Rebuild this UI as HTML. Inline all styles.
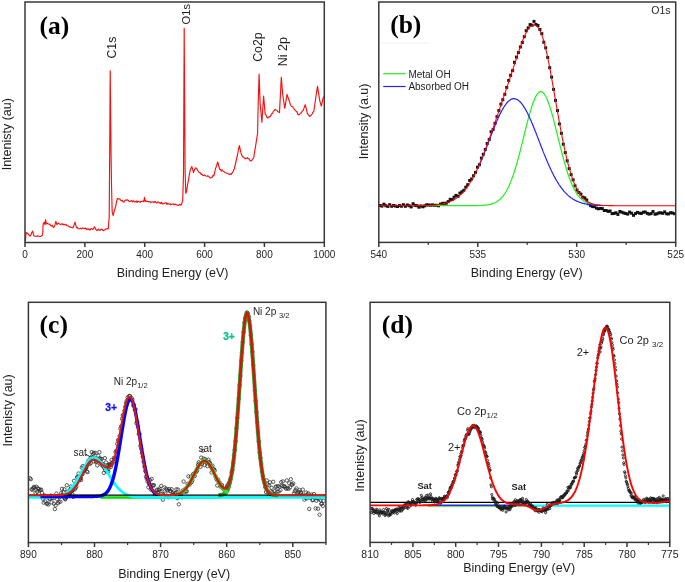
<!DOCTYPE html>
<html><head><meta charset="utf-8"><style>html,body{margin:0;padding:0;background:#fff;}svg{display:block;will-change:transform;}</style></head>
<body>
<svg width="685" height="582" viewBox="0 0 685 582">
<rect width="685" height="582" fill="#fff"/>
<polyline points="25.4,241 26.1,232.5 27.4,233.3 28.3,234.1 29.1,235.2 30,236 30.9,235.1 31.7,232.7 32.6,231.1 34,236 35,236.2 36,236.3 36.9,236.4 37.7,235.7 38.6,236.2 39.5,236.3 40.3,236.5 41.2,236 42.6,235 43.2,223.9 44.3,222.2 45,224.7 45.6,219.6 46.3,223.9 47.2,223.3 48,223.8 48.9,224.2 49.8,224 50.6,225.7 51.5,225.9 52.4,225.3 53.2,227.4 54.1,227 55,224.9 55.8,221.3 57,224.7 58.4,223 59.2,223.9 60.1,224.2 60.9,224.6 61.6,223.9 62.4,223.8 63.2,224.9 63.9,224.2 64.7,224.6 65.5,224.9 66.2,224.6 67,225.6 67.8,225.8 68.5,226 69.2,227 70,226.7 70.8,227.2 71.5,227.2 72.2,227.7 73,227.7 74,224.9 75,222.2 76.4,227.7 77.3,227.4 78.1,228.7 79,228.8 79.8,228.7 80.7,228.2 81.5,228.7 82.4,228.1 83.2,228.1 84.1,228.7 84.9,228.4 85.7,228.1 86.4,229.3 87.2,228.8 88,229.6 88.8,228.9 89.6,229.9 90.4,229.8 91.1,228.4 91.9,228.8 92.7,229.4 93.6,228.8 94.4,226.8 95.3,228.3 96.2,229.9 97,230.7 97.8,229.7 98.5,229.2 99.3,230.1 100.1,230.4 100.9,229.5 101.7,229.2 102.5,229.6 103.2,230.7 104,230.3 104.8,229.9 105.7,229 106.5,229 107.3,228.5 108.2,229 109.2,217 109.7,150 110.2,70.7 110.7,120 111,150 111.5,184.7 112.2,212.2 113.2,215.6 114.1,211.4 115,208.7 115.8,205.8 116.6,201.3 117.4,198.4 118.2,198.9 119,199 119.7,198.9 120.5,199.8 121.3,200.8 122.2,200.4 123.1,201.8 123.9,202.2 124.8,200.5 125.6,200.1 126.5,200.1 127.3,199.9 128.2,200.2 129.1,201.5 129.9,201.4 130.8,201 131.6,200.7 132.4,201.8 133.1,200.8 133.9,201.1 134.7,202 135.5,201.7 136.3,200.9 137.1,202.5 137.8,201.2 138.6,201.4 139.4,201.9 140.3,202.3 141.2,201.5 142,201.4 142.9,201 143.8,201.7 144.5,197.4 145.2,201.5 146,200.8 146.8,201.7 147.6,201.2 148.4,201.8 149.1,201.5 149.9,201.7 150.7,202.6 151.5,201.8 152.3,202 153.1,201.9 153.9,202.6 154.6,201.5 155.4,201.6 156.2,202.9 156.9,202.9 157.7,202 158.5,202 159.2,203 160,202.7 160.8,203.6 161.6,202.4 162.3,203.8 163.1,203.8 163.9,203.4 164.7,203.2 165.5,202.8 166.3,202.8 167,204.5 167.8,203.3 168.6,203.9 169.4,204.3 170.2,203.7 170.9,204.8 171.7,204.5 172.5,204 173.3,203.9 174.1,205 174.9,204 175.6,204.3 176.4,205 177.2,205 178.1,205.5 178.9,205 179.8,204.3 180.6,205.2 181.5,204.4 182.7,200.1 183.5,174.4 184.2,28.2 184.9,140 185.1,171 185.8,193.3 186.6,191.5 187.4,185.8 188.3,181.2 189.2,175.3 190,171 190.9,168.4 191.8,166.6 192.7,169.5 193.5,172.6 194.6,169.5 195.7,167.8 196.7,168.6 197.6,170.2 198.6,171.8 199.5,172.8 200.3,172.9 201.2,174.4 202,174.3 202.8,175.3 203.5,175.6 204.3,174.9 205.1,175.6 205.8,176 206.6,176.2 207.4,175.9 208.2,176.1 208.9,176.5 209.7,177.7 210.6,178 211.4,177.2 212.3,177.2 213.1,175.2 214,175.6 215.5,168.5 216.3,166.6 217,164.1 217.8,162 218.8,166.1 219.8,169.5 220.6,169.6 221.3,171.1 222.1,169.9 222.8,171 223.6,171.3 224.5,172.1 225.3,172.8 226.2,173 227,173.3 227.9,173.4 228.7,174.1 229.5,174.6 230.3,173.8 231.1,174.3 231.9,173.2 232.8,172.1 233.6,170.6 234.4,168.5 237.6,154.5 238.4,149.9 239.3,145.5 240.2,149.4 241,152.9 241.9,155.6 242.7,156.5 243.5,157.4 244.3,157.8 245.1,158.8 246.2,158.4 247.3,157.7 248.1,158.7 248.9,158.6 249.7,160.3 250.5,160.9 251.3,160.9 252.1,159.9 252.9,158.9 253.7,157.7 256.3,141.6 257.6,133 258.2,103 259.1,74.1 260.1,103 261.9,122.3 263.6,96.1 265.1,113.7 266,114.9 266.8,117 267.7,118 268.5,117.5 269.3,116.6 270.1,116.6 270.9,115.4 271.8,113.5 272.6,113.4 273.5,111 274.3,110.8 275.2,109.4 276.1,110 276.9,110.2 277.8,111.7 278.6,112 279.5,112.6 281.3,77.2 282.7,94.4 284.8,108.3 287,94.4 288.5,98.7 289.4,101.4 290.4,104.4 291.3,106.2 292.1,106.6 292.9,107 293.7,108.3 294.5,109.4 295.4,110.8 296.2,111.1 297.1,112.1 297.9,114.4 298.8,114.8 299.7,114.2 300.5,113 301.4,112.9 302.2,111.1 303.1,110.5 304.1,107.9 305.2,104.7 306.3,108.7 307.4,113.7 308.4,114.9 309.5,116.3 310.4,115.9 311.2,115.1 312.1,114.1 312.9,112.3 313.8,111.5 317.5,86.2 319.8,100.8 321.3,106.2 322.4,101.5 323.5,96.5" fill="none" stroke="#f81010" stroke-width="1.15" stroke-linejoin="round"/>
<rect x="25" y="2" width="299.3" height="240.5" fill="none" stroke="#383838" stroke-width="1.5"/>
<line x1="25" y1="242.5" x2="25" y2="247" stroke="#383838" stroke-width="1.5"/>
<text x="25" y="257.8" font-family="Liberation Sans, sans-serif" font-size="10" text-anchor="middle" fill="#1e1e1e">0</text>
<line x1="84.9" y1="242.5" x2="84.9" y2="247" stroke="#383838" stroke-width="1.5"/>
<text x="84.9" y="257.8" font-family="Liberation Sans, sans-serif" font-size="10" text-anchor="middle" fill="#1e1e1e">200</text>
<line x1="144.7" y1="242.5" x2="144.7" y2="247" stroke="#383838" stroke-width="1.5"/>
<text x="144.7" y="257.8" font-family="Liberation Sans, sans-serif" font-size="10" text-anchor="middle" fill="#1e1e1e">400</text>
<line x1="204.6" y1="242.5" x2="204.6" y2="247" stroke="#383838" stroke-width="1.5"/>
<text x="204.6" y="257.8" font-family="Liberation Sans, sans-serif" font-size="10" text-anchor="middle" fill="#1e1e1e">600</text>
<line x1="264.4" y1="242.5" x2="264.4" y2="247" stroke="#383838" stroke-width="1.5"/>
<text x="264.4" y="257.8" font-family="Liberation Sans, sans-serif" font-size="10" text-anchor="middle" fill="#1e1e1e">800</text>
<line x1="324.3" y1="242.5" x2="324.3" y2="247" stroke="#383838" stroke-width="1.5"/>
<text x="324.3" y="257.8" font-family="Liberation Sans, sans-serif" font-size="10" text-anchor="middle" fill="#1e1e1e">1000</text>
<text x="172.6" y="277.4" font-family="Liberation Sans, sans-serif" font-size="12.5" text-anchor="middle" fill="#1e1e1e">Binding Energy (eV)</text>
<text transform="translate(11.2,134.2) rotate(-90)" font-family="Liberation Sans, sans-serif" font-size="12.5" text-anchor="middle" fill="#1e1e1e">Intenisty (au)</text>
<text x="39.6" y="33.7" font-family="Liberation Serif, serif" font-weight="bold" font-size="25.5" fill="#000">(a)</text>
<text transform="translate(116,36.7) rotate(-90)" font-family="Liberation Sans, sans-serif" font-size="12.3" text-anchor="end" fill="#1e1e1e">C1s</text>
<text transform="translate(189.8,4) rotate(-90)" font-family="Liberation Sans, sans-serif" font-size="11.2" text-anchor="end" fill="#1e1e1e">O1s</text>
<text transform="translate(262,32.4) rotate(-90)" font-family="Liberation Sans, sans-serif" font-size="12.3" text-anchor="end" fill="#1e1e1e">Co2p</text>
<text transform="translate(287,37) rotate(-90)" font-family="Liberation Sans, sans-serif" font-size="12.5" text-anchor="end" fill="#1e1e1e">Ni 2p</text>
<g fill="#111">
<rect x="378.5" y="204" width="3" height="3"/>
<rect x="380.4" y="204.6" width="3" height="3"/>
<rect x="382.4" y="202.7" width="3" height="3"/>
<rect x="384.3" y="204.2" width="3" height="3"/>
<rect x="386.3" y="204.9" width="3" height="3"/>
<rect x="388.2" y="203.2" width="3" height="3"/>
<rect x="390.2" y="204.8" width="3" height="3"/>
<rect x="392.1" y="204" width="3" height="3"/>
<rect x="394.1" y="204.6" width="3" height="3"/>
<rect x="396" y="205" width="3" height="3"/>
<rect x="398" y="204.1" width="3" height="3"/>
<rect x="399.9" y="204.7" width="3" height="3"/>
<rect x="401.9" y="203.2" width="3" height="3"/>
<rect x="403.8" y="204.8" width="3" height="3"/>
<rect x="405.8" y="203.5" width="3" height="3"/>
<rect x="407.7" y="204.2" width="3" height="3"/>
<rect x="409.7" y="205.4" width="3" height="3"/>
<rect x="411.6" y="202.2" width="3" height="3"/>
<rect x="413.6" y="203.9" width="3" height="3"/>
<rect x="415.5" y="204.2" width="3" height="3"/>
<rect x="417.5" y="205.7" width="3" height="3"/>
<rect x="419.4" y="204.4" width="3" height="3"/>
<rect x="421.4" y="205.3" width="3" height="3"/>
<rect x="423.3" y="204.3" width="3" height="3"/>
<rect x="425.3" y="203.3" width="3" height="3"/>
<rect x="427.2" y="203.5" width="3" height="3"/>
<rect x="429.2" y="203.8" width="3" height="3"/>
<rect x="431.1" y="203.4" width="3" height="3"/>
<rect x="433.1" y="203.9" width="3" height="3"/>
<rect x="435" y="203.8" width="3" height="3"/>
<rect x="437" y="204.3" width="3" height="3"/>
<rect x="438.9" y="202.6" width="3" height="3"/>
<rect x="440.9" y="201.9" width="3" height="3"/>
<rect x="442.8" y="201.8" width="3" height="3"/>
<rect x="444.8" y="201.7" width="3" height="3"/>
<rect x="446.7" y="200.1" width="3" height="3"/>
<rect x="448.7" y="197.8" width="3" height="3"/>
<rect x="450.6" y="198.1" width="3" height="3"/>
<rect x="452.6" y="195.7" width="3" height="3"/>
<rect x="454.5" y="193.9" width="3" height="3"/>
<rect x="456.5" y="194.8" width="3" height="3"/>
<rect x="458.4" y="191.6" width="3" height="3"/>
<rect x="460.4" y="190.3" width="3" height="3"/>
<rect x="462.3" y="188.8" width="3" height="3"/>
<rect x="464.3" y="185.7" width="3" height="3"/>
<rect x="466.2" y="183.2" width="3" height="3"/>
<rect x="468.2" y="179" width="3" height="3"/>
<rect x="470.1" y="177.5" width="3" height="3"/>
<rect x="472.1" y="174.2" width="3" height="3"/>
<rect x="474" y="170.9" width="3" height="3"/>
<rect x="476" y="165.7" width="3" height="3"/>
<rect x="477.9" y="163.2" width="3" height="3"/>
<rect x="479.9" y="156.6" width="3" height="3"/>
<rect x="481.8" y="152.8" width="3" height="3"/>
<rect x="483.8" y="148" width="3" height="3"/>
<rect x="485.7" y="142" width="3" height="3"/>
<rect x="487.7" y="137.9" width="3" height="3"/>
<rect x="489.6" y="130.3" width="3" height="3"/>
<rect x="491.6" y="128" width="3" height="3"/>
<rect x="493.5" y="121.8" width="3" height="3"/>
<rect x="495.5" y="115.1" width="3" height="3"/>
<rect x="497.4" y="109" width="3" height="3"/>
<rect x="499.4" y="102.6" width="3" height="3"/>
<rect x="501.3" y="98.2" width="3" height="3"/>
<rect x="503.3" y="92.8" width="3" height="3"/>
<rect x="505.2" y="85.9" width="3" height="3"/>
<rect x="507.2" y="78.9" width="3" height="3"/>
<rect x="509.1" y="73.8" width="3" height="3"/>
<rect x="511.1" y="69.1" width="3" height="3"/>
<rect x="513" y="60.8" width="3" height="3"/>
<rect x="515" y="55.6" width="3" height="3"/>
<rect x="516.9" y="51.1" width="3" height="3"/>
<rect x="518.9" y="45.5" width="3" height="3"/>
<rect x="520.8" y="41" width="3" height="3"/>
<rect x="522.8" y="35.2" width="3" height="3"/>
<rect x="524.7" y="29.2" width="3" height="3"/>
<rect x="526.7" y="26.4" width="3" height="3"/>
<rect x="528.6" y="23.1" width="3" height="3"/>
<rect x="530.6" y="23.7" width="3" height="3"/>
<rect x="532.5" y="19.9" width="3" height="3"/>
<rect x="534.5" y="23" width="3" height="3"/>
<rect x="536.4" y="24" width="3" height="3"/>
<rect x="538.4" y="28" width="3" height="3"/>
<rect x="540.3" y="32.2" width="3" height="3"/>
<rect x="542.3" y="40.7" width="3" height="3"/>
<rect x="544.2" y="46.3" width="3" height="3"/>
<rect x="546.2" y="55.9" width="3" height="3"/>
<rect x="548.2" y="66.2" width="3" height="3"/>
<rect x="550.1" y="75.6" width="3" height="3"/>
<rect x="552.1" y="87.9" width="3" height="3"/>
<rect x="554" y="98.9" width="3" height="3"/>
<rect x="556" y="109.1" width="3" height="3"/>
<rect x="557.9" y="122.4" width="3" height="3"/>
<rect x="559.9" y="131.8" width="3" height="3"/>
<rect x="561.8" y="142.7" width="3" height="3"/>
<rect x="563.8" y="151.1" width="3" height="3"/>
<rect x="565.7" y="159.3" width="3" height="3"/>
<rect x="567.7" y="167.1" width="3" height="3"/>
<rect x="569.6" y="173.1" width="3" height="3"/>
<rect x="571.6" y="178.3" width="3" height="3"/>
<rect x="573.5" y="184.3" width="3" height="3"/>
<rect x="575.5" y="188.6" width="3" height="3"/>
<rect x="577.4" y="191" width="3" height="3"/>
<rect x="579.4" y="192.6" width="3" height="3"/>
<rect x="581.3" y="195.7" width="3" height="3"/>
<rect x="583.3" y="196.4" width="3" height="3"/>
<rect x="585.2" y="198.5" width="3" height="3"/>
<rect x="587.2" y="202.3" width="3" height="3"/>
<rect x="589.1" y="204.1" width="3" height="3"/>
<rect x="591.1" y="205.1" width="3" height="3"/>
<rect x="593" y="205.2" width="3" height="3"/>
<rect x="595" y="206.6" width="3" height="3"/>
<rect x="596.9" y="207.3" width="3" height="3"/>
<rect x="598.9" y="206.9" width="3" height="3"/>
<rect x="600.8" y="207.1" width="3" height="3"/>
<rect x="602.8" y="209" width="3" height="3"/>
<rect x="604.7" y="209" width="3" height="3"/>
<rect x="606.7" y="209.9" width="3" height="3"/>
<rect x="608.6" y="209.5" width="3" height="3"/>
<rect x="610.6" y="212.1" width="3" height="3"/>
<rect x="612.5" y="211.9" width="3" height="3"/>
<rect x="614.5" y="211.3" width="3" height="3"/>
<rect x="616.4" y="212.9" width="3" height="3"/>
<rect x="618.4" y="210" width="3" height="3"/>
<rect x="620.3" y="210.7" width="3" height="3"/>
<rect x="622.3" y="211.5" width="3" height="3"/>
<rect x="624.2" y="212" width="3" height="3"/>
<rect x="626.2" y="212.6" width="3" height="3"/>
<rect x="628.1" y="210.6" width="3" height="3"/>
<rect x="630.1" y="211.7" width="3" height="3"/>
<rect x="632" y="213.8" width="3" height="3"/>
<rect x="634" y="212.1" width="3" height="3"/>
<rect x="635.9" y="210.9" width="3" height="3"/>
<rect x="637.9" y="211.6" width="3" height="3"/>
<rect x="639.8" y="212" width="3" height="3"/>
<rect x="641.8" y="210.7" width="3" height="3"/>
<rect x="643.7" y="210.5" width="3" height="3"/>
<rect x="645.7" y="211.8" width="3" height="3"/>
<rect x="647.6" y="212.6" width="3" height="3"/>
<rect x="649.6" y="212.1" width="3" height="3"/>
<rect x="651.5" y="210" width="3" height="3"/>
<rect x="653.5" y="212.7" width="3" height="3"/>
<rect x="655.4" y="212.3" width="3" height="3"/>
<rect x="657.4" y="211.4" width="3" height="3"/>
<rect x="659.3" y="211.3" width="3" height="3"/>
<rect x="661.3" y="211.8" width="3" height="3"/>
<rect x="663.2" y="210.4" width="3" height="3"/>
<rect x="665.2" y="212.3" width="3" height="3"/>
<rect x="667.1" y="212.4" width="3" height="3"/>
<rect x="669.1" y="211.2" width="3" height="3"/>
<rect x="671" y="211.5" width="3" height="3"/>
<rect x="673" y="212.2" width="3" height="3"/>
</g>
<polyline points="428.8,205.7 429.3,205.7 429.8,205.7 430.3,205.7 430.8,205.7 431.3,205.7 431.8,205.7 432.3,205.7 432.8,205.7 433.3,205.7 433.8,205.7 434.3,205.7 434.8,205.7 435.3,205.7 435.8,205.7 436.3,205.7 436.8,205.7 437.3,205.7 437.8,205.7 438.3,205.7 438.8,205.7 439.3,205.7 439.8,205.7 440.3,205.7 440.8,205.7 441.3,205.7 441.8,205.7 442.3,205.7 442.8,205.7 443.3,205.7 443.8,205.7 444.3,205.7 444.8,205.7 445.3,205.7 445.8,205.7 446.3,205.7 446.8,205.7 447.3,205.7 447.8,205.7 448.3,205.7 448.8,205.7 449.3,205.7 449.8,205.7 450.3,205.7 450.8,205.7 451.3,205.7 451.8,205.7 452.3,205.7 452.8,205.7 453.3,205.7 453.8,205.7 454.3,205.7 454.8,205.7 455.3,205.7 455.8,205.7 456.3,205.7 456.8,205.7 457.3,205.7 457.8,205.7 458.3,205.7 458.8,205.7 459.3,205.7 459.8,205.7 460.3,205.7 460.8,205.7 461.3,205.7 461.8,205.7 462.3,205.7 462.8,205.7 463.3,205.7 463.8,205.7 464.3,205.7 464.8,205.7 465.3,205.7 465.8,205.7 466.3,205.7 466.8,205.7 467.3,205.7 467.8,205.7 468.3,205.7 468.8,205.7 469.3,205.7 469.8,205.7 470.3,205.7 470.8,205.7 471.3,205.7 471.8,205.7 472.3,205.7 472.8,205.7 473.3,205.7 473.8,205.7 474.3,205.6 474.8,205.6 475.3,205.6 475.8,205.6 476.3,205.6 476.8,205.6 477.3,205.6 477.8,205.6 478.3,205.6 478.8,205.6 479.3,205.5 479.8,205.5 480.3,205.5 480.8,205.5 481.3,205.5 481.8,205.4 482.3,205.4 482.8,205.4 483.3,205.3 483.8,205.3 484.3,205.2 484.8,205.2 485.3,205.1 485.8,205.1 486.3,205 486.8,205 487.3,204.9 487.8,204.8 488.3,204.7 488.8,204.6 489.3,204.5 489.8,204.4 490.3,204.3 490.8,204.2 491.3,204.1 491.8,203.9 492.3,203.8 492.8,203.6 493.3,203.4 493.8,203.2 494.3,203 494.8,202.8 495.3,202.5 495.8,202.3 496.3,202 496.8,201.7 497.3,201.4 497.8,201 498.3,200.7 498.8,200.3 499.3,199.9 499.8,199.5 500.3,199 500.8,198.5 501.3,198 501.8,197.5 502.3,196.9 502.8,196.3 503.3,195.7 503.8,195 504.3,194.3 504.8,193.6 505.3,192.8 505.8,192 506.3,191.2 506.8,190.3 507.3,189.3 507.8,188.4 508.3,187.4 508.8,186.3 509.3,185.2 509.8,184.1 510.3,182.9 510.8,181.7 511.3,180.4 511.8,179.1 512.3,177.7 512.8,176.3 513.3,174.9 513.8,173.4 514.3,171.9 514.8,170.3 515.3,168.7 515.8,167 516.3,165.3 516.8,163.6 517.3,161.9 517.8,160.1 518.3,158.2 518.8,156.4 519.3,154.5 519.8,152.5 520.3,150.6 520.8,148.6 521.3,146.7 521.8,144.7 522.3,142.6 522.8,140.6 523.3,138.6 523.8,136.6 524.3,134.5 524.8,132.5 525.3,130.5 525.8,128.5 526.3,126.5 526.8,124.5 527.3,122.5 527.8,120.6 528.3,118.7 528.8,116.8 529.3,115 529.8,113.2 530.3,111.5 530.8,109.8 531.3,108.2 531.8,106.6 532.3,105.1 532.8,103.6 533.3,102.3 533.8,101 534.3,99.7 534.8,98.6 535.3,97.5 535.8,96.5 536.3,95.6 536.8,94.8 537.3,94.1 537.8,93.5 538.3,92.9 538.8,92.5 539.3,92.1 539.8,91.9 540.3,91.7 540.8,91.7 541.3,91.7 541.8,91.9 542.3,92.1 542.8,92.5 543.3,92.9 543.8,93.5 544.3,94.1 544.8,94.8 545.3,95.6 545.8,96.5 546.3,97.5 546.8,98.6 547.3,99.7 547.8,101 548.3,102.3 548.8,103.6 549.3,105.1 549.8,106.6 550.3,108.2 550.8,109.8 551.3,111.5 551.8,113.2 552.3,115 552.8,116.8 553.3,118.7 553.8,120.6 554.3,122.5 554.8,124.5 555.3,126.5 555.8,128.5 556.3,130.5 556.8,132.5 557.3,134.5 557.8,136.6 558.3,138.6 558.8,140.6 559.3,142.6 559.8,144.7 560.3,146.7 560.8,148.6 561.3,150.6 561.8,152.5 562.3,154.5 562.8,156.4 563.3,158.2 563.8,160.1 564.3,161.9 564.8,163.6 565.3,165.3 565.8,167 566.3,168.7 566.8,170.3 567.3,171.9 567.8,173.4 568.3,174.9 568.8,176.3 569.3,177.7 569.8,179.1 570.3,180.4 570.8,181.7 571.3,182.9 571.8,184.1 572.3,185.2 572.8,186.3 573.3,187.4 573.8,188.4 574.3,189.3 574.8,190.3 575.3,191.2 575.8,192 576.3,192.8 576.8,193.6 577.3,194.3 577.8,195 578.3,195.7 578.8,196.3 579.3,196.9 579.8,197.5 580.3,198 580.8,198.5 581.3,199 581.8,199.5 582.3,199.9 582.8,200.3 583.3,200.7 583.8,201 584.3,201.4 584.8,201.7 585.3,202 585.8,202.3 586.3,202.5 586.8,202.8 587.3,203 587.8,203.2 588.3,203.4 588.8,203.6 589.3,203.8 589.8,203.9 590.3,204.1 590.8,204.2 591.3,204.3 591.8,204.4 592.3,204.5 592.8,204.6 593.3,204.7 593.8,204.8 594.3,204.9 594.8,205 595.3,205 595.8,205.1 596.3,205.1 596.8,205.2 597.3,205.2 597.8,205.3 598.3,205.3 598.8,205.4 599.3,205.4 599.8,205.4 600.3,205.5 600.8,205.5 601.3,205.5 601.8,205.5 602.3,205.5 602.8,205.6 603.3,205.6 603.8,205.6" fill="none" stroke="#22ee22" stroke-width="1.2"/>
<polyline points="478.3,167.1 478.8,166 479.3,164.9 479.8,163.7 480.3,162.6 480.8,161.4 481.3,160.2 481.8,159 482.3,157.8 482.8,156.6 483.3,155.4 483.8,154.1 484.3,152.9 484.8,151.6 485.3,150.3 485.8,149.1 486.3,147.8 486.8,146.5 487.3,145.2 487.8,143.9 488.3,142.6 488.8,141.3 489.3,140 489.8,138.7 490.3,137.4 490.8,136.1 491.3,134.8 491.8,133.6 492.3,132.3 492.8,131 493.3,129.8 493.8,128.5 494.3,127.3 494.8,126 495.3,124.8 495.8,123.6 496.3,122.4 496.8,121.3 497.3,120.1 497.8,119 498.3,117.8 498.8,116.8 499.3,115.7 499.8,114.6 500.3,113.6 500.8,112.6 501.3,111.7 501.8,110.7 502.3,109.8 502.8,108.9 503.3,108.1 503.8,107.2 504.3,106.5 504.8,105.7 505.3,105 505.8,104.3 506.3,103.7 506.8,103 507.3,102.5 507.8,101.9 508.3,101.4 508.8,101 509.3,100.6 509.8,100.2 510.3,99.9 510.8,99.6 511.3,99.3 511.8,99.1 512.3,98.9 512.8,98.8 513.3,98.7 513.8,98.7 514.3,98.7 514.8,98.8 515.3,98.8 515.8,99 516.3,99.2 516.8,99.4 517.3,99.6 517.8,99.9 518.3,100.3 518.8,100.7 519.3,101.1 519.8,101.5 520.3,102 520.8,102.6 521.3,103.2 521.8,103.8 522.3,104.4 522.8,105.1 523.3,105.9 523.8,106.6 524.3,107.4 524.8,108.2 525.3,109.1 525.8,110 526.3,110.9 526.8,111.8 527.3,112.8 527.8,113.8 528.3,114.8 528.8,115.9 529.3,117 529.8,118.1 530.3,119.2 530.8,120.3 531.3,121.5 531.8,122.7 532.3,123.8 532.8,125.1 533.3,126.3 533.8,127.5 534.3,128.7 534.8,130 535.3,131.3 535.8,132.5 536.3,133.8 536.8,135.1 537.3,136.4 537.8,137.7 538.3,139 538.8,140.3 539.3,141.6 539.8,142.9 540.3,144.2 540.8,145.5 541.3,146.8 541.8,148 542.3,149.3 542.8,150.6 543.3,151.9 543.8,153.1 544.3,154.4 544.8,155.6 545.3,156.8 545.8,158.1 546.3,159.3 546.8,160.5 547.3,161.6 547.8,162.8 548.3,164 548.8,165.1 549.3,166.2 549.8,167.3 550.3,168.4 550.8,169.5 551.3,170.5 551.8,171.6 552.3,172.6 552.8,173.6 553.3,174.6 553.8,175.6 554.3,176.5 554.8,177.4 555.3,178.4 555.8,179.3 556.3,180.1 556.8,181 557.3,181.8 557.8,182.6 558.3,183.4 558.8,184.2 559.3,185 559.8,185.7 560.3,186.4 560.8,187.1 561.3,187.8 561.8,188.5 562.3,189.1 562.8,189.8 563.3,190.4 563.8,191 564.3,191.6 564.8,192.1 565.3,192.7 565.8,193.2 566.3,193.7 566.8,194.2 567.3,194.7 567.8,195.1 568.3,195.6 568.8,196 569.3,196.4 569.8,196.8 570.3,197.2 570.8,197.6 571.3,198 571.8,198.3 572.3,198.6 572.8,199 573.3,199.3 573.8,199.6 574.3,199.9 574.8,200.1 575.3,200.4 575.8,200.7 576.3,200.9 576.8,201.1 577.3,201.4 577.8,201.6 578.3,201.8 578.8,202 579.3,202.2 579.8,202.3 580.3,202.5 580.8,202.7 581.3,202.8 581.8,203 582.3,203.1 582.8,203.3 583.3,203.4 583.8,203.5 584.3,203.6 584.8,203.8 585.3,203.9 585.8,204 586.3,204.1 586.8,204.2 587.3,204.2 587.8,204.3 588.3,204.4 588.8,204.5 589.3,204.6 589.8,204.6 590.3,204.7 590.8,204.7 591.3,204.8 591.8,204.9 592.3,204.9 592.8,205 593.3,205 593.8,205 594.3,205.1 594.8,205.1 595.3,205.2 595.8,205.2 596.3,205.2 596.8,205.3 597.3,205.3 597.8,205.3 598.3,205.3 598.8,205.4 599.3,205.4 599.8,205.4 600.3,205.4 600.8,205.4 601.3,205.5 601.8,205.5 602.3,205.5 602.8,205.5 603.3,205.5 603.8,205.5" fill="none" stroke="#2222ff" stroke-width="1.2"/>
<polyline points="378.8,205.7 379.3,205.7 379.8,205.7 380.3,205.7 380.8,205.7 381.3,205.7 381.8,205.7 382.3,205.7 382.8,205.7 383.3,205.7 383.8,205.7 384.3,205.7 384.8,205.7 385.3,205.7 385.8,205.7 386.3,205.7 386.8,205.7 387.3,205.7 387.8,205.7 388.3,205.7 388.8,205.7 389.3,205.7 389.8,205.7 390.3,205.7 390.8,205.7 391.3,205.7 391.8,205.7 392.3,205.7 392.8,205.7 393.3,205.7 393.8,205.7 394.3,205.7 394.8,205.7 395.3,205.7 395.8,205.7 396.3,205.7 396.8,205.7 397.3,205.7 397.8,205.7 398.3,205.7 398.8,205.7 399.3,205.7 399.8,205.7 400.3,205.7 400.8,205.7 401.3,205.7 401.8,205.7 402.3,205.7 402.8,205.7 403.3,205.7 403.8,205.7 404.3,205.7 404.8,205.7 405.3,205.7 405.8,205.7 406.3,205.7 406.8,205.7 407.3,205.7 407.8,205.7 408.3,205.7 408.8,205.7 409.3,205.7 409.8,205.7 410.3,205.7 410.8,205.7 411.3,205.7 411.8,205.7 412.3,205.7 412.8,205.7 413.3,205.7 413.8,205.7 414.3,205.7 414.8,205.7 415.3,205.7 415.8,205.7 416.3,205.6 416.8,205.6 417.3,205.6 417.8,205.6 418.3,205.6 418.8,205.6 419.3,205.6 419.8,205.6 420.3,205.6 420.8,205.6 421.3,205.6 421.8,205.6 422.3,205.6 422.8,205.6 423.3,205.6 423.8,205.5 424.3,205.5 424.8,205.5 425.3,205.5 425.8,205.5 426.3,205.5 426.8,205.5 427.3,205.4 427.8,205.4 428.3,205.4 428.8,205.4 429.3,205.4 429.8,205.3 430.3,205.3 430.8,205.3 431.3,205.3 431.8,205.2 432.3,205.2 432.8,205.2 433.3,205.1 433.8,205.1 434.3,205 434.8,205 435.3,204.9 435.8,204.9 436.3,204.8 436.8,204.8 437.3,204.7 437.8,204.7 438.3,204.6 438.8,204.5 439.3,204.5 439.8,204.4 440.3,204.3 440.8,204.2 441.3,204.1 441.8,204 442.3,203.9 442.8,203.8 443.3,203.7 443.8,203.6 444.3,203.5 444.8,203.4 445.3,203.2 445.8,203.1 446.3,203 446.8,202.8 447.3,202.7 447.8,202.5 448.3,202.3 448.8,202.1 449.3,201.9 449.8,201.7 450.3,201.5 450.8,201.3 451.3,201.1 451.8,200.9 452.3,200.6 452.8,200.4 453.3,200.1 453.8,199.8 454.3,199.5 454.8,199.2 455.3,198.9 455.8,198.6 456.3,198.2 456.8,197.9 457.3,197.5 457.8,197.1 458.3,196.8 458.8,196.4 459.3,195.9 459.8,195.5 460.3,195 460.8,194.6 461.3,194.1 461.8,193.6 462.3,193.1 462.8,192.6 463.3,192 463.8,191.4 464.3,190.9 464.8,190.3 465.3,189.6 465.8,189 466.3,188.4 466.8,187.7 467.3,187 467.8,186.3 468.3,185.6 468.8,184.8 469.3,184 469.8,183.3 470.3,182.5 470.8,181.6 471.3,180.8 471.8,179.9 472.3,179 472.8,178.1 473.3,177.2 473.8,176.3 474.3,175.3 474.8,174.3 475.3,173.3 475.8,172.3 476.3,171.3 476.8,170.2 477.3,169.2 477.8,168.1 478.3,167 478.8,165.8 479.3,164.7 479.8,163.5 480.3,162.4 480.8,161.2 481.3,160 481.8,158.7 482.3,157.5 482.8,156.3 483.3,155 483.8,153.7 484.3,152.4 484.8,151.1 485.3,149.8 485.8,148.5 486.3,147.1 486.8,145.8 487.3,144.4 487.8,143 488.3,141.6 488.8,140.3 489.3,138.9 489.8,137.5 490.3,136 490.8,134.6 491.3,133.2 491.8,131.8 492.3,130.3 492.8,128.9 493.3,127.5 493.8,126 494.3,124.6 494.8,123.1 495.3,121.6 495.8,120.2 496.3,118.7 496.8,117.2 497.3,115.8 497.8,114.3 498.3,112.8 498.8,111.4 499.3,109.9 499.8,108.4 500.3,106.9 500.8,105.5 501.3,104 501.8,102.5 502.3,101 502.8,99.5 503.3,98.1 503.8,96.6 504.3,95.1 504.8,93.6 505.3,92.1 505.8,90.6 506.3,89.1 506.8,87.6 507.3,86.1 507.8,84.6 508.3,83.1 508.8,81.6 509.3,80.1 509.8,78.6 510.3,77.1 510.8,75.5 511.3,74 511.8,72.5 512.3,71 512.8,69.5 513.3,67.9 513.8,66.4 514.3,64.9 514.8,63.4 515.3,61.8 515.8,60.3 516.3,58.8 516.8,57.3 517.3,55.8 517.8,54.3 518.3,52.8 518.8,51.3 519.3,49.9 519.8,48.4 520.3,47 520.8,45.6 521.3,44.2 521.8,42.8 522.3,41.5 522.8,40.2 523.3,38.9 523.8,37.7 524.3,36.5 524.8,35.4 525.3,34.3 525.8,33.3 526.3,32.3 526.8,31.4 527.3,30.5 527.8,29.7 528.3,28.9 528.8,28.3 529.3,27.6 529.8,27.1 530.3,26.6 530.8,26.2 531.3,25.8 531.8,25.5 532.3,25.3 532.8,25.1 533.3,25 533.8,25 534.3,25 534.8,25.1 535.3,25.2 535.8,25.5 536.3,25.8 536.8,26.1 537.3,26.6 537.8,27.1 538.3,27.8 538.8,28.5 539.3,29.3 539.8,30.2 540.3,31.3 540.8,32.4 541.3,33.6 541.8,34.9 542.3,36.4 542.8,37.9 543.3,39.5 543.8,41.2 544.3,43 544.8,45 545.3,46.9 545.8,49 546.3,51.2 546.8,53.4 547.3,55.7 547.8,58.1 548.3,60.6 548.8,63.1 549.3,65.6 549.8,68.2 550.3,70.9 550.8,73.6 551.3,76.3 551.8,79.1 552.3,81.9 552.8,84.8 553.3,87.6 553.8,90.5 554.3,93.3 554.8,96.2 555.3,99.1 555.8,102 556.3,104.9 556.8,107.8 557.3,110.6 557.8,113.5 558.3,116.3 558.8,119.1 559.3,121.9 559.8,124.7 560.3,127.4 560.8,130.1 561.3,132.7 561.8,135.3 562.3,137.9 562.8,140.4 563.3,142.9 563.8,145.3 564.3,147.7 564.8,150 565.3,152.3 565.8,154.5 566.3,156.7 566.8,158.8 567.3,160.8 567.8,162.8 568.3,164.8 568.8,166.7 569.3,168.5 569.8,170.2 570.3,171.9 570.8,173.6 571.3,175.2 571.8,176.7 572.3,178.2 572.8,179.6 573.3,180.9 573.8,182.3 574.3,183.5 574.8,184.7 575.3,185.9 575.8,187 576.3,188 576.8,189 577.3,190 577.8,190.9 578.3,191.8 578.8,192.6 579.3,193.4 579.8,194.1 580.3,194.9 580.8,195.5 581.3,196.2 581.8,196.8 582.3,197.3 582.8,197.9 583.3,198.4 583.8,198.9 584.3,199.3 584.8,199.8 585.3,200.2 585.8,200.5 586.3,200.9 586.8,201.2 587.3,201.5 587.8,201.8 588.3,202.1 588.8,202.4 589.3,202.6 589.8,202.8 590.3,203 590.8,203.2 591.3,203.4 591.8,203.6 592.3,203.7 592.8,203.9 593.3,204 593.8,204.2 594.3,204.3 594.8,204.4 595.3,204.5 595.8,204.6 596.3,204.7 596.8,204.8 597.3,204.8 597.8,204.9 598.3,205 598.8,205 599.3,205.1 599.8,205.1 600.3,205.2 600.8,205.2 601.3,205.3 601.8,205.3 602.3,205.3 602.8,205.4 603.3,205.4 603.8,205.4 604.3,205.4 604.8,205.5 605.3,205.5 605.8,205.5 606.3,205.5 606.8,205.5 607.3,205.5 607.8,205.6 608.3,205.6 608.8,205.6 609.3,205.6 609.8,205.6 610.3,205.6 610.8,205.6 611.3,205.6 611.8,205.6 612.3,205.6 612.8,205.6 613.3,205.6 613.8,205.7 614.3,205.7 614.8,205.7 615.3,205.7 615.8,205.7 616.3,205.7 616.8,205.7 617.3,205.7 617.8,205.7 618.3,205.7 618.8,205.7 619.3,205.7 619.8,205.7 620.3,205.7 620.8,205.7 621.3,205.7 621.8,205.7 622.3,205.7 622.8,205.7 623.3,205.7 623.8,205.7 624.3,205.7 624.8,205.7 625.3,205.7 625.8,205.7 626.3,205.7 626.8,205.7 627.3,205.7 627.8,205.7 628.3,205.7 628.8,205.7 629.3,205.7 629.8,205.7 630.3,205.7 630.8,205.7 631.3,205.7 631.8,205.7 632.3,205.7 632.8,205.7 633.3,205.7 633.8,205.7 634.3,205.7 634.8,205.7 635.3,205.7 635.8,205.7 636.3,205.7 636.8,205.7 637.3,205.7 637.8,205.7 638.3,205.7 638.8,205.7 639.3,205.7 639.8,205.7 640.3,205.7 640.8,205.7 641.3,205.7 641.8,205.7 642.3,205.7 642.8,205.7 643.3,205.7 643.8,205.7 644.3,205.7 644.8,205.7 645.3,205.7 645.8,205.7 646.3,205.7 646.8,205.7 647.3,205.7 647.8,205.7 648.3,205.7 648.8,205.7 649.3,205.7 649.8,205.7 650.3,205.7 650.8,205.7 651.3,205.7 651.8,205.7 652.3,205.7 652.8,205.7 653.3,205.7 653.8,205.7 654.3,205.7 654.8,205.7 655.3,205.7 655.8,205.7 656.3,205.7 656.8,205.7 657.3,205.7 657.8,205.7 658.3,205.7 658.8,205.7 659.3,205.7 659.8,205.7 660.3,205.7 660.8,205.7 661.3,205.7 661.8,205.7 662.3,205.7 662.8,205.7 663.3,205.7 663.8,205.7 664.3,205.7 664.8,205.7 665.3,205.7 665.8,205.7 666.3,205.7 666.8,205.7 667.3,205.7 667.8,205.7 668.3,205.7 668.8,205.7 669.3,205.7 669.8,205.7 670.3,205.7 670.8,205.7 671.3,205.7 671.8,205.7 672.3,205.7 672.8,205.7 673.3,205.7 673.8,205.7 674.3,205.7 674.8,205.7 675.3,205.7" fill="none" stroke="#ff0000" stroke-width="1.05"/>
<rect x="378.8" y="2" width="296.9" height="240.4" fill="none" stroke="#383838" stroke-width="1.5"/>
<line x1="378.8" y1="242.4" x2="378.8" y2="246.9" stroke="#383838" stroke-width="1.5"/>
<text x="378.8" y="257.8" font-family="Liberation Sans, sans-serif" font-size="10" text-anchor="middle" fill="#1e1e1e">540</text>
<line x1="477.8" y1="242.4" x2="477.8" y2="246.9" stroke="#383838" stroke-width="1.5"/>
<text x="477.8" y="257.8" font-family="Liberation Sans, sans-serif" font-size="10" text-anchor="middle" fill="#1e1e1e">535</text>
<line x1="576.7" y1="242.4" x2="576.7" y2="246.9" stroke="#383838" stroke-width="1.5"/>
<text x="576.7" y="257.8" font-family="Liberation Sans, sans-serif" font-size="10" text-anchor="middle" fill="#1e1e1e">530</text>
<line x1="675.7" y1="242.4" x2="675.7" y2="246.9" stroke="#383838" stroke-width="1.5"/>
<text x="675.7" y="257.8" font-family="Liberation Sans, sans-serif" font-size="10" text-anchor="middle" fill="#1e1e1e">525</text>
<line x1="428.3" y1="242.4" x2="428.3" y2="244.9" stroke="#383838" stroke-width="1.2"/>
<line x1="527.2" y1="242.4" x2="527.2" y2="244.9" stroke="#383838" stroke-width="1.2"/>
<line x1="626.2" y1="242.4" x2="626.2" y2="244.9" stroke="#383838" stroke-width="1.2"/>
<text x="526.7" y="277.4" font-family="Liberation Sans, sans-serif" font-size="12.5" text-anchor="middle" fill="#1e1e1e">Binding Energy (eV)</text>
<text transform="translate(368,121.4) rotate(-90)" font-family="Liberation Sans, sans-serif" font-size="12.5" text-anchor="middle" fill="#1e1e1e">Intensity (a.u)</text>
<text x="390.2" y="33.2" font-family="Liberation Serif, serif" font-weight="bold" font-size="25.5" fill="#000">(b)</text>
<text x="670.5" y="14.2" font-family="Liberation Sans, sans-serif" font-size="10.5" text-anchor="end" fill="#1e1e1e">O1s</text>
<line x1="383.2" y1="73.7" x2="405.6" y2="73.7" stroke="#22ee22" stroke-width="1.2"/>
<text x="408.4" y="77.5" font-family="Liberation Sans, sans-serif" font-size="10" fill="#1e1e1e">Metal OH</text>
<line x1="383.2" y1="86.5" x2="405.6" y2="86.5" stroke="#2222ff" stroke-width="1.2"/>
<text x="408.4" y="90.4" font-family="Liberation Sans, sans-serif" font-size="10" fill="#1e1e1e">Absorbed OH</text>
<line x1="382" y1="43" x2="429.5" y2="43" stroke="#f0f0f0" stroke-width="1"/>
<g fill="none" stroke="#2a2a2a" stroke-width="0.75">
<circle cx="30" cy="478.3" r="1.7"/>
<circle cx="30.8" cy="479.2" r="1.7"/>
<circle cx="31.6" cy="489.2" r="1.7"/>
<circle cx="32.4" cy="489.9" r="1.7"/>
<circle cx="33.2" cy="488.2" r="1.7"/>
<circle cx="34" cy="486.8" r="1.7"/>
<circle cx="34.8" cy="487.6" r="1.7"/>
<circle cx="35.6" cy="492.8" r="1.7"/>
<circle cx="36.4" cy="486.8" r="1.7"/>
<circle cx="37.2" cy="491.8" r="1.7"/>
<circle cx="38" cy="488.4" r="1.7"/>
<circle cx="38.8" cy="489.1" r="1.7"/>
<circle cx="39.6" cy="490.7" r="1.7"/>
<circle cx="40.4" cy="489.8" r="1.7"/>
<circle cx="41.2" cy="489.7" r="1.7"/>
<circle cx="42" cy="492.8" r="1.7"/>
<circle cx="42.8" cy="498.6" r="1.7"/>
<circle cx="43.6" cy="502.7" r="1.7"/>
<circle cx="44.4" cy="495.4" r="1.7"/>
<circle cx="45.2" cy="501.5" r="1.7"/>
<circle cx="46" cy="496.8" r="1.7"/>
<circle cx="46.8" cy="503.9" r="1.7"/>
<circle cx="47.6" cy="503.3" r="1.7"/>
<circle cx="48.4" cy="504.5" r="1.7"/>
<circle cx="49.2" cy="498.7" r="1.7"/>
<circle cx="50" cy="498.8" r="1.7"/>
<circle cx="50.8" cy="495.7" r="1.7"/>
<circle cx="51.6" cy="502.4" r="1.7"/>
<circle cx="52.4" cy="497.8" r="1.7"/>
<circle cx="53.2" cy="498.3" r="1.7"/>
<circle cx="54" cy="503.7" r="1.7"/>
<circle cx="54.8" cy="509.1" r="1.7"/>
<circle cx="55.6" cy="505.4" r="1.7"/>
<circle cx="56.4" cy="493.6" r="1.7"/>
<circle cx="57.2" cy="499.4" r="1.7"/>
<circle cx="58" cy="503.2" r="1.7"/>
<circle cx="58.8" cy="501.7" r="1.7"/>
<circle cx="59.6" cy="497.1" r="1.7"/>
<circle cx="60.4" cy="501.8" r="1.7"/>
<circle cx="61.2" cy="492.9" r="1.7"/>
<circle cx="62" cy="494.9" r="1.7"/>
<circle cx="62.8" cy="495.1" r="1.7"/>
<circle cx="63.6" cy="492.2" r="1.7"/>
<circle cx="64.4" cy="489.3" r="1.7"/>
<circle cx="65.2" cy="498.8" r="1.7"/>
<circle cx="66" cy="496.6" r="1.7"/>
<circle cx="66.8" cy="485.3" r="1.7"/>
<circle cx="67.6" cy="495" r="1.7"/>
<circle cx="68.4" cy="494.1" r="1.7"/>
<circle cx="69.2" cy="493.7" r="1.7"/>
<circle cx="70" cy="489.9" r="1.7"/>
<circle cx="70.8" cy="488.9" r="1.7"/>
<circle cx="71.6" cy="491" r="1.7"/>
<circle cx="72.4" cy="494.4" r="1.7"/>
<circle cx="73.2" cy="496.9" r="1.7"/>
<circle cx="74" cy="480.8" r="1.7"/>
<circle cx="74.8" cy="489.4" r="1.7"/>
<circle cx="75.6" cy="487.9" r="1.7"/>
<circle cx="76.4" cy="483.7" r="1.7"/>
<circle cx="77.2" cy="477.2" r="1.7"/>
<circle cx="78" cy="479.8" r="1.7"/>
<circle cx="78.8" cy="476.9" r="1.7"/>
<circle cx="79.6" cy="479.8" r="1.7"/>
<circle cx="80.4" cy="477.3" r="1.7"/>
<circle cx="81.2" cy="480" r="1.7"/>
<circle cx="82" cy="474.4" r="1.7"/>
<circle cx="82.8" cy="466.1" r="1.7"/>
<circle cx="83.6" cy="469.4" r="1.7"/>
<circle cx="84.4" cy="469.9" r="1.7"/>
<circle cx="85.2" cy="468.9" r="1.7"/>
<circle cx="86" cy="467.5" r="1.7"/>
<circle cx="86.8" cy="471.5" r="1.7"/>
<circle cx="87.6" cy="472.1" r="1.7"/>
<circle cx="88.4" cy="460.7" r="1.7"/>
<circle cx="89.2" cy="461.5" r="1.7"/>
<circle cx="90" cy="460.2" r="1.7"/>
<circle cx="90.8" cy="463.2" r="1.7"/>
<circle cx="91.6" cy="456.8" r="1.7"/>
<circle cx="92.4" cy="458.2" r="1.7"/>
<circle cx="93.2" cy="454" r="1.7"/>
<circle cx="94" cy="452.8" r="1.7"/>
<circle cx="94.8" cy="459" r="1.7"/>
<circle cx="95.6" cy="453" r="1.7"/>
<circle cx="96.4" cy="460.9" r="1.7"/>
<circle cx="97.2" cy="465.4" r="1.7"/>
<circle cx="98" cy="459.9" r="1.7"/>
<circle cx="98.8" cy="461.4" r="1.7"/>
<circle cx="99.6" cy="458.3" r="1.7"/>
<circle cx="100.4" cy="460.7" r="1.7"/>
<circle cx="101.2" cy="464.6" r="1.7"/>
<circle cx="102" cy="463.7" r="1.7"/>
<circle cx="102.8" cy="465.8" r="1.7"/>
<circle cx="103.6" cy="466.8" r="1.7"/>
<circle cx="104.4" cy="468.1" r="1.7"/>
<circle cx="105.2" cy="470.3" r="1.7"/>
<circle cx="106" cy="467.6" r="1.7"/>
<circle cx="106.8" cy="468.4" r="1.7"/>
<circle cx="107.6" cy="465.3" r="1.7"/>
<circle cx="108.4" cy="469" r="1.7"/>
<circle cx="109.2" cy="465.5" r="1.7"/>
<circle cx="110" cy="464.8" r="1.7"/>
<circle cx="110.8" cy="466.9" r="1.7"/>
<circle cx="111.6" cy="460" r="1.7"/>
<circle cx="112.4" cy="462.9" r="1.7"/>
<circle cx="113.2" cy="461.6" r="1.7"/>
<circle cx="114" cy="457.8" r="1.7"/>
<circle cx="114.8" cy="458.7" r="1.7"/>
<circle cx="115.6" cy="452.1" r="1.7"/>
<circle cx="116.4" cy="450.8" r="1.7"/>
<circle cx="117.2" cy="443.8" r="1.7"/>
<circle cx="118" cy="440.1" r="1.7"/>
<circle cx="118.8" cy="440.8" r="1.7"/>
<circle cx="119.6" cy="436.4" r="1.7"/>
<circle cx="120.4" cy="428.6" r="1.7"/>
<circle cx="121.2" cy="426.2" r="1.7"/>
<circle cx="122" cy="418.8" r="1.7"/>
<circle cx="122.8" cy="415.2" r="1.7"/>
<circle cx="123.6" cy="414.7" r="1.7"/>
<circle cx="124.4" cy="410.8" r="1.7"/>
<circle cx="125.2" cy="406.7" r="1.7"/>
<circle cx="126" cy="402.8" r="1.7"/>
<circle cx="126.8" cy="400.6" r="1.7"/>
<circle cx="127.6" cy="397.3" r="1.7"/>
<circle cx="128.4" cy="399.2" r="1.7"/>
<circle cx="129.2" cy="395.9" r="1.7"/>
<circle cx="130" cy="396" r="1.7"/>
<circle cx="130.8" cy="399.7" r="1.7"/>
<circle cx="131.6" cy="398.1" r="1.7"/>
<circle cx="132.4" cy="399.7" r="1.7"/>
<circle cx="133.2" cy="405.6" r="1.7"/>
<circle cx="134" cy="405" r="1.7"/>
<circle cx="134.8" cy="409.6" r="1.7"/>
<circle cx="135.6" cy="409.3" r="1.7"/>
<circle cx="136.4" cy="423.4" r="1.7"/>
<circle cx="137.2" cy="422.2" r="1.7"/>
<circle cx="138" cy="426.7" r="1.7"/>
<circle cx="138.8" cy="434" r="1.7"/>
<circle cx="139.6" cy="434.2" r="1.7"/>
<circle cx="140.4" cy="445.9" r="1.7"/>
<circle cx="141.2" cy="448.9" r="1.7"/>
<circle cx="142" cy="453.3" r="1.7"/>
<circle cx="142.8" cy="456.7" r="1.7"/>
<circle cx="143.6" cy="461.7" r="1.7"/>
<circle cx="144.4" cy="466.5" r="1.7"/>
<circle cx="145.2" cy="471.1" r="1.7"/>
<circle cx="146" cy="476.7" r="1.7"/>
<circle cx="146.8" cy="478.9" r="1.7"/>
<circle cx="147.6" cy="481.6" r="1.7"/>
<circle cx="148.4" cy="487.3" r="1.7"/>
<circle cx="149.2" cy="484" r="1.7"/>
<circle cx="150" cy="480.1" r="1.7"/>
<circle cx="150.8" cy="489.6" r="1.7"/>
<circle cx="151.6" cy="478.9" r="1.7"/>
<circle cx="152.4" cy="485.1" r="1.7"/>
<circle cx="153.2" cy="485.8" r="1.7"/>
<circle cx="154" cy="485.1" r="1.7"/>
<circle cx="154.8" cy="495" r="1.7"/>
<circle cx="155.6" cy="492.9" r="1.7"/>
<circle cx="156.4" cy="490.7" r="1.7"/>
<circle cx="157.2" cy="489.6" r="1.7"/>
<circle cx="158" cy="492.8" r="1.7"/>
<circle cx="158.8" cy="489.9" r="1.7"/>
<circle cx="159.6" cy="488.7" r="1.7"/>
<circle cx="160.4" cy="491.4" r="1.7"/>
<circle cx="161.2" cy="485.9" r="1.7"/>
<circle cx="162" cy="491.3" r="1.7"/>
<circle cx="162.8" cy="499.8" r="1.7"/>
<circle cx="163.6" cy="494.7" r="1.7"/>
<circle cx="164.4" cy="487.4" r="1.7"/>
<circle cx="165.2" cy="493.7" r="1.7"/>
<circle cx="166" cy="488.6" r="1.7"/>
<circle cx="166.8" cy="489.6" r="1.7"/>
<circle cx="167.6" cy="490.5" r="1.7"/>
<circle cx="168.4" cy="497.2" r="1.7"/>
<circle cx="169.2" cy="489" r="1.7"/>
<circle cx="170" cy="490.8" r="1.7"/>
<circle cx="170.8" cy="491.5" r="1.7"/>
<circle cx="171.6" cy="489.2" r="1.7"/>
<circle cx="172.4" cy="495.2" r="1.7"/>
<circle cx="173.2" cy="492.8" r="1.7"/>
<circle cx="174" cy="494.8" r="1.7"/>
<circle cx="174.8" cy="493.4" r="1.7"/>
<circle cx="175.6" cy="493" r="1.7"/>
<circle cx="176.4" cy="489.3" r="1.7"/>
<circle cx="177.2" cy="498.2" r="1.7"/>
<circle cx="178" cy="489.5" r="1.7"/>
<circle cx="178.8" cy="504.3" r="1.7"/>
<circle cx="179.6" cy="497.1" r="1.7"/>
<circle cx="180.4" cy="495.1" r="1.7"/>
<circle cx="181.2" cy="493.4" r="1.7"/>
<circle cx="182" cy="497.3" r="1.7"/>
<circle cx="182.8" cy="490.5" r="1.7"/>
<circle cx="183.6" cy="481.5" r="1.7"/>
<circle cx="184.4" cy="491.8" r="1.7"/>
<circle cx="185.2" cy="488.9" r="1.7"/>
<circle cx="186" cy="491.5" r="1.7"/>
<circle cx="186.8" cy="491.3" r="1.7"/>
<circle cx="187.6" cy="483.9" r="1.7"/>
<circle cx="188.4" cy="476.4" r="1.7"/>
<circle cx="189.2" cy="484.9" r="1.7"/>
<circle cx="190" cy="483.6" r="1.7"/>
<circle cx="190.8" cy="476.7" r="1.7"/>
<circle cx="191.6" cy="482.1" r="1.7"/>
<circle cx="192.4" cy="480.2" r="1.7"/>
<circle cx="193.2" cy="473.9" r="1.7"/>
<circle cx="194" cy="474.8" r="1.7"/>
<circle cx="194.8" cy="476.1" r="1.7"/>
<circle cx="195.6" cy="472.2" r="1.7"/>
<circle cx="196.4" cy="471.7" r="1.7"/>
<circle cx="197.2" cy="470.2" r="1.7"/>
<circle cx="198" cy="464.9" r="1.7"/>
<circle cx="198.8" cy="462.3" r="1.7"/>
<circle cx="199.6" cy="463.7" r="1.7"/>
<circle cx="200.4" cy="466.9" r="1.7"/>
<circle cx="201.2" cy="457.6" r="1.7"/>
<circle cx="202" cy="463.9" r="1.7"/>
<circle cx="202.8" cy="450.7" r="1.7"/>
<circle cx="203.6" cy="458.6" r="1.7"/>
<circle cx="204.4" cy="465.2" r="1.7"/>
<circle cx="205.2" cy="459.2" r="1.7"/>
<circle cx="206" cy="461" r="1.7"/>
<circle cx="206.8" cy="462.9" r="1.7"/>
<circle cx="207.6" cy="466.2" r="1.7"/>
<circle cx="208.4" cy="459.7" r="1.7"/>
<circle cx="209.2" cy="462" r="1.7"/>
<circle cx="210" cy="463.2" r="1.7"/>
<circle cx="210.8" cy="465.9" r="1.7"/>
<circle cx="211.6" cy="472.5" r="1.7"/>
<circle cx="212.4" cy="465.7" r="1.7"/>
<circle cx="213.2" cy="469.4" r="1.7"/>
<circle cx="214" cy="469.2" r="1.7"/>
<circle cx="214.8" cy="470.5" r="1.7"/>
<circle cx="215.6" cy="476.6" r="1.7"/>
<circle cx="216.4" cy="479.5" r="1.7"/>
<circle cx="217.2" cy="485.5" r="1.7"/>
<circle cx="218" cy="479.5" r="1.7"/>
<circle cx="218.8" cy="482.4" r="1.7"/>
<circle cx="219.6" cy="482.5" r="1.7"/>
<circle cx="220.4" cy="486.5" r="1.7"/>
<circle cx="221.2" cy="486.2" r="1.7"/>
<circle cx="222" cy="485.1" r="1.7"/>
<circle cx="222.8" cy="488.3" r="1.7"/>
<circle cx="223.6" cy="489.3" r="1.7"/>
<circle cx="224.4" cy="489.3" r="1.7"/>
<circle cx="225.2" cy="488.9" r="1.7"/>
<circle cx="226" cy="488.4" r="1.7"/>
<circle cx="226.8" cy="486.9" r="1.7"/>
<circle cx="227.6" cy="485.2" r="1.7"/>
<circle cx="228.4" cy="484.4" r="1.7"/>
<circle cx="229.2" cy="482.3" r="1.7"/>
<circle cx="230" cy="479.8" r="1.7"/>
<circle cx="230.8" cy="477.5" r="1.7"/>
<circle cx="231.6" cy="472.1" r="1.7"/>
<circle cx="232.4" cy="470.2" r="1.7"/>
<circle cx="233.2" cy="462.9" r="1.7"/>
<circle cx="234" cy="455.5" r="1.7"/>
<circle cx="234.8" cy="449.9" r="1.7"/>
<circle cx="235.6" cy="441.2" r="1.7"/>
<circle cx="236.4" cy="428.4" r="1.7"/>
<circle cx="237.2" cy="418.1" r="1.7"/>
<circle cx="238" cy="409" r="1.7"/>
<circle cx="238.8" cy="398.5" r="1.7"/>
<circle cx="239.6" cy="385.3" r="1.7"/>
<circle cx="240.4" cy="375.9" r="1.7"/>
<circle cx="241.2" cy="360.7" r="1.7"/>
<circle cx="242" cy="352.4" r="1.7"/>
<circle cx="242.8" cy="342.1" r="1.7"/>
<circle cx="243.6" cy="331.9" r="1.7"/>
<circle cx="244.4" cy="322.5" r="1.7"/>
<circle cx="245.2" cy="318.2" r="1.7"/>
<circle cx="246" cy="316.2" r="1.7"/>
<circle cx="246.8" cy="312.5" r="1.7"/>
<circle cx="247.6" cy="313" r="1.7"/>
<circle cx="248.4" cy="316.2" r="1.7"/>
<circle cx="249.2" cy="320.5" r="1.7"/>
<circle cx="250" cy="325.9" r="1.7"/>
<circle cx="250.8" cy="335.6" r="1.7"/>
<circle cx="251.6" cy="344.2" r="1.7"/>
<circle cx="252.4" cy="351.8" r="1.7"/>
<circle cx="253.2" cy="365.1" r="1.7"/>
<circle cx="254" cy="375.9" r="1.7"/>
<circle cx="254.8" cy="390.6" r="1.7"/>
<circle cx="255.6" cy="401" r="1.7"/>
<circle cx="256.4" cy="412.1" r="1.7"/>
<circle cx="257.2" cy="422.3" r="1.7"/>
<circle cx="258" cy="432.3" r="1.7"/>
<circle cx="258.8" cy="441.5" r="1.7"/>
<circle cx="259.6" cy="452.7" r="1.7"/>
<circle cx="260.4" cy="457.9" r="1.7"/>
<circle cx="261.2" cy="463.9" r="1.7"/>
<circle cx="262" cy="471.4" r="1.7"/>
<circle cx="262.8" cy="476.5" r="1.7"/>
<circle cx="263.6" cy="479.4" r="1.7"/>
<circle cx="264.4" cy="481.8" r="1.7"/>
<circle cx="265.2" cy="487.3" r="1.7"/>
<circle cx="266" cy="492" r="1.7"/>
<circle cx="266.8" cy="480.4" r="1.7"/>
<circle cx="267.6" cy="484.7" r="1.7"/>
<circle cx="268.4" cy="496.2" r="1.7"/>
<circle cx="269.2" cy="485.4" r="1.7"/>
<circle cx="270" cy="482.3" r="1.7"/>
<circle cx="270.8" cy="491.4" r="1.7"/>
<circle cx="271.6" cy="487.8" r="1.7"/>
<circle cx="272.4" cy="492.1" r="1.7"/>
<circle cx="273.2" cy="481.8" r="1.7"/>
<circle cx="274" cy="494.1" r="1.7"/>
<circle cx="274.8" cy="491.1" r="1.7"/>
<circle cx="275.6" cy="487" r="1.7"/>
<circle cx="276.4" cy="486.4" r="1.7"/>
<circle cx="277.2" cy="491.5" r="1.7"/>
<circle cx="278" cy="486.2" r="1.7"/>
<circle cx="278.8" cy="491.5" r="1.7"/>
<circle cx="279.6" cy="486.7" r="1.7"/>
<circle cx="280.4" cy="490.2" r="1.7"/>
<circle cx="281.2" cy="482.2" r="1.7"/>
<circle cx="282" cy="485.8" r="1.7"/>
<circle cx="282.8" cy="481.4" r="1.7"/>
<circle cx="283.6" cy="486.5" r="1.7"/>
<circle cx="284.4" cy="486.1" r="1.7"/>
<circle cx="285.2" cy="487.4" r="1.7"/>
<circle cx="286" cy="488.7" r="1.7"/>
<circle cx="286.8" cy="480.4" r="1.7"/>
<circle cx="287.6" cy="488" r="1.7"/>
<circle cx="288.4" cy="488.9" r="1.7"/>
<circle cx="289.2" cy="483.3" r="1.7"/>
<circle cx="290" cy="487.5" r="1.7"/>
<circle cx="290.8" cy="479.2" r="1.7"/>
<circle cx="291.6" cy="484.4" r="1.7"/>
<circle cx="292.4" cy="484.7" r="1.7"/>
<circle cx="293.2" cy="483.4" r="1.7"/>
<circle cx="294" cy="493.6" r="1.7"/>
<circle cx="294.8" cy="491.3" r="1.7"/>
<circle cx="295.6" cy="490.1" r="1.7"/>
<circle cx="296.4" cy="488.4" r="1.7"/>
<circle cx="297.2" cy="495.6" r="1.7"/>
<circle cx="298" cy="493.4" r="1.7"/>
<circle cx="298.8" cy="491.9" r="1.7"/>
<circle cx="299.6" cy="489.9" r="1.7"/>
<circle cx="300.4" cy="492.7" r="1.7"/>
<circle cx="301.2" cy="493" r="1.7"/>
<circle cx="302" cy="495" r="1.7"/>
<circle cx="302.8" cy="489.6" r="1.7"/>
<circle cx="303.6" cy="496.2" r="1.7"/>
<circle cx="304.4" cy="499.6" r="1.7"/>
<circle cx="305.2" cy="497.6" r="1.7"/>
<circle cx="306" cy="492.5" r="1.7"/>
<circle cx="306.8" cy="498.5" r="1.7"/>
<circle cx="307.6" cy="494.4" r="1.7"/>
<circle cx="308.4" cy="493.3" r="1.7"/>
<circle cx="309.2" cy="508.9" r="1.7"/>
<circle cx="310" cy="497.7" r="1.7"/>
<circle cx="310.8" cy="496.3" r="1.7"/>
<circle cx="311.6" cy="494.7" r="1.7"/>
<circle cx="312.4" cy="500.2" r="1.7"/>
<circle cx="313.2" cy="500" r="1.7"/>
<circle cx="314" cy="494" r="1.7"/>
<circle cx="314.8" cy="496.9" r="1.7"/>
<circle cx="315.6" cy="508.4" r="1.7"/>
<circle cx="316.4" cy="500.7" r="1.7"/>
<circle cx="317.2" cy="498.3" r="1.7"/>
<circle cx="318" cy="508.7" r="1.7"/>
<circle cx="318.8" cy="498.8" r="1.7"/>
<circle cx="319.6" cy="514.7" r="1.7"/>
<circle cx="320.4" cy="500.1" r="1.7"/>
<circle cx="321.2" cy="503.9" r="1.7"/>
<circle cx="322" cy="503.6" r="1.7"/>
<circle cx="322.8" cy="505.9" r="1.7"/>
<circle cx="323.6" cy="500.8" r="1.7"/>
<circle cx="62" cy="488.8" r="1.7"/>
<circle cx="63.1" cy="495.7" r="1.7"/>
<circle cx="64.2" cy="498" r="1.7"/>
<circle cx="65.3" cy="499.3" r="1.7"/>
<circle cx="66.4" cy="497.3" r="1.7"/>
<circle cx="67.5" cy="491.8" r="1.7"/>
<circle cx="68.6" cy="493.2" r="1.7"/>
<circle cx="69.7" cy="493.8" r="1.7"/>
<circle cx="70.8" cy="486.5" r="1.7"/>
<circle cx="71.9" cy="491.2" r="1.7"/>
<circle cx="73" cy="489.9" r="1.7"/>
<circle cx="74.1" cy="486.7" r="1.7"/>
<circle cx="75.2" cy="484.7" r="1.7"/>
<circle cx="76.3" cy="486.4" r="1.7"/>
<circle cx="77.4" cy="477.2" r="1.7"/>
<circle cx="78.5" cy="473.5" r="1.7"/>
<circle cx="79.6" cy="479.2" r="1.7"/>
<circle cx="80.7" cy="477.9" r="1.7"/>
<circle cx="81.8" cy="467.7" r="1.7"/>
<circle cx="82.9" cy="473.6" r="1.7"/>
<circle cx="84" cy="470.8" r="1.7"/>
<circle cx="85.1" cy="466.7" r="1.7"/>
<circle cx="86.2" cy="467.8" r="1.7"/>
<circle cx="87.3" cy="465.5" r="1.7"/>
<circle cx="88.4" cy="462.6" r="1.7"/>
<circle cx="89.5" cy="464" r="1.7"/>
<circle cx="90.6" cy="458" r="1.7"/>
<circle cx="91.7" cy="452.1" r="1.7"/>
<circle cx="92.8" cy="458.8" r="1.7"/>
<circle cx="93.9" cy="461.4" r="1.7"/>
<circle cx="95" cy="457.9" r="1.7"/>
<circle cx="96.1" cy="461.9" r="1.7"/>
<circle cx="97.2" cy="459.6" r="1.7"/>
<circle cx="98.3" cy="455.8" r="1.7"/>
<circle cx="99.4" cy="452.1" r="1.7"/>
<circle cx="100.5" cy="459" r="1.7"/>
<circle cx="101.6" cy="458.9" r="1.7"/>
<circle cx="102.7" cy="464.1" r="1.7"/>
<circle cx="103.8" cy="472.9" r="1.7"/>
<circle cx="104.9" cy="458.1" r="1.7"/>
<circle cx="106" cy="462.4" r="1.7"/>
<circle cx="107.1" cy="471.4" r="1.7"/>
<circle cx="108.2" cy="471.6" r="1.7"/>
<circle cx="109.3" cy="464.1" r="1.7"/>
<circle cx="110.4" cy="465" r="1.7"/>
<circle cx="111.5" cy="464.8" r="1.7"/>
</g>
<line x1="86" y1="454.2" x2="90.6" y2="457.2" stroke="#333" stroke-width="1"/>
<polyline points="100.4,497.5 100.9,497.5 101.4,497.5 101.9,497.5 102.4,497.5 102.9,497.5 103.4,497.5 103.9,497.5 104.4,497.5 104.9,497.5 105.4,497.5 105.9,497.5 106.4,497.5 106.9,497.5 107.4,497.5 107.9,497.5 108.4,497.5 108.9,497.5 109.4,497.5 109.9,497.5 110.4,497.5 110.9,497.5 111.4,497.5 111.9,497.5 112.4,497.5 112.9,497.5 113.4,497.5 113.9,497.5 114.4,497.5 114.9,497.5 115.4,497.5 115.9,497.5 116.4,497.5 116.9,497.5 117.4,497.5 117.9,497.5 118.4,497.5 118.9,497.5 119.4,497.5 119.9,497.5 120.4,497.5 120.9,497.5 121.4,497.5 121.9,497.5 122.4,497.5 122.9,497.5 123.4,497.5 123.9,497.5 124.4,497.5 124.9,497.5 125.4,497.5 125.9,497.5 126.4,497.5 126.9,497.5 127.4,497.5 127.9,497.5 128.4,497.5 128.9,497.5 129.4,497.5 129.9,497.5 130.4,497.5 130.9,497.5 131.4,497.5 131.9,497.5 132.4,497.5 132.9,497.5 133.4,497.5 133.9,497.5 134.4,497.5 134.9,497.5 135.4,497.5 135.9,497.5 136.4,497.5 136.9,497.5 137.4,497.5 137.9,497.5 138.4,497.5 138.9,497.5 139.4,497.5 139.9,497.5 140.4,497.5 140.9,497.5 141.4,497.5 141.9,497.5 142.4,497.5 142.9,497.5 143.4,497.5 143.9,497.5 144.4,497.5 144.9,497.5 145.4,497.5 145.9,497.5 146.4,497.5 146.9,497.5 147.4,497.5 147.9,497.5 148.4,497.5 148.9,497.5 149.4,497.5 149.9,497.5 150.4,497.5 150.9,497.5 151.4,497.5 151.9,497.5 152.4,497.5 152.9,497.5 153.4,497.5 153.9,497.5 154.4,497.5 154.9,497.5 155.4,497.5 155.9,497.5 156.4,497.5 156.9,497.5 157.4,497.5 157.9,497.5 158.4,497.5 158.9,497.5 159.4,497.5 159.9,497.5 160.4,497.5 160.9,497.5 161.4,497.5 161.9,497.5 162.4,497.5 162.9,497.5 163.4,497.5 163.9,497.5 164.4,497.5 164.9,497.5 165.4,497.5 165.9,497.5 166.4,497.5 166.9,497.5 167.4,497.5 167.9,497.5 168.4,497.5 168.9,497.5 169.4,497.5 169.9,497.5 170.4,497.5 170.9,497.5 171.4,497.5 171.9,497.5 172.4,497.5 172.9,497.5 173.4,497.5 173.9,497.5 174.4,497.5 174.9,497.5 175.4,497.5 175.9,497.5 176.4,497.5 176.9,497.5 177.4,497.5 177.9,497.5 178.4,497.5 178.9,497.5 179.4,497.5 179.9,497.5 180.4,497.5 180.9,497.5 181.4,497.5 181.9,497.5 182.4,497.5 182.9,497.5 183.4,497.5 183.9,497.5 184.4,497.5 184.9,497.5 185.4,497.5 185.9,497.5 186.4,497.5 186.9,497.5 187.4,497.5 187.9,497.5 188.4,497.5 188.9,497.5 189.4,497.5 189.9,497.5 190.4,497.5 190.9,497.5 191.4,497.5 191.9,497.5 192.4,497.5 192.9,497.5 193.4,497.5 193.9,497.5 194.4,497.5 194.9,497.5 195.4,497.5 195.9,497.5 196.4,497.5 196.9,497.5 197.4,497.5 197.9,497.5 198.4,497.5 198.9,497.5 199.4,497.5 199.9,497.5 200.4,497.5 200.9,497.5 201.4,497.5 201.9,497.5 202.4,497.5 202.9,497.5 203.4,497.5 203.9,497.5 204.4,497.5 204.9,497.5 205.4,497.5 205.9,497.5 206.4,497.5 206.9,497.5 207.4,497.5 207.9,497.5 208.4,497.5 208.9,497.5 209.4,497.5 209.9,497.5 210.4,497.5 210.9,497.5 211.4,497.5 211.9,497.5 212.4,497.5 212.9,497.5 213.4,497.5 213.9,497.5 214.4,497.5 214.9,497.5 215.4,497.5 215.9,497.5 216.4,497.5 216.9,497.5 217.4,497.4 217.9,497.4 218.4,497.4 218.9,497.4 219.4,497.3 219.9,497.3 220.4,497.2 220.9,497.1 221.4,497 221.9,496.9 222.4,496.8 222.9,496.6 223.4,496.3 223.9,496.1 224.4,495.7 224.9,495.3 225.4,494.9 225.9,494.3 226.4,493.7 226.9,492.9 227.4,492 227.9,490.9 228.4,489.7 228.9,488.3 229.4,486.7 229.9,484.8 230.4,482.7 230.9,480.4 231.4,477.7 231.9,474.8 232.4,471.5 232.9,467.9 233.4,463.9 233.9,459.6 234.4,454.9 234.9,449.8" fill="none" stroke="#00dd00" stroke-width="2.4"/>
<polyline points="28.4,497.4 28.9,497.4 29.4,497.4 29.9,497.4 30.4,497.4 30.9,497.4 31.4,497.4 31.9,497.4 32.4,497.4 32.9,497.4 33.4,497.4 33.9,497.4 34.4,497.4 34.9,497.4 35.4,497.4 35.9,497.4 36.4,497.4 36.9,497.4 37.4,497.4 37.9,497.4 38.4,497.4 38.9,497.4 39.4,497.4 39.9,497.4 40.4,497.4 40.9,497.4 41.4,497.4 41.9,497.4 42.4,497.4 42.9,497.4 43.4,497.4 43.9,497.4 44.4,497.4 44.9,497.4 45.4,497.4 45.9,497.4 46.4,497.3 46.9,497.3 47.4,497.3 47.9,497.3 48.4,497.3 48.9,497.3 49.4,497.3 49.9,497.3 50.4,497.2 50.9,497.2 51.4,497.2 51.9,497.2 52.4,497.1 52.9,497.1 53.4,497.1 53.9,497 54.4,497 54.9,496.9 55.4,496.9 55.9,496.8 56.4,496.7 56.9,496.7 57.4,496.6 57.9,496.5 58.4,496.4 58.9,496.3 59.4,496.2 59.9,496 60.4,495.9 60.9,495.7 61.4,495.6 61.9,495.4 62.4,495.2 62.9,495 63.4,494.8 63.9,494.5 64.4,494.3 64.9,494 65.4,493.7 65.9,493.3 66.4,493 66.9,492.6 67.4,492.2 67.9,491.8 68.4,491.4 68.9,490.9 69.4,490.4 69.9,489.9 70.4,489.4 70.9,488.8 71.4,488.2 71.9,487.6 72.4,487 72.9,486.3 73.4,485.6 73.9,484.9 74.4,484.1 74.9,483.4 75.4,482.6 75.9,481.8 76.4,480.9 76.9,480.1 77.4,479.2 77.9,478.3 78.4,477.4 78.9,476.5 79.4,475.6 79.9,474.7 80.4,473.8 80.9,472.8 81.4,471.9 81.9,471 82.4,470.1 82.9,469.1 83.4,468.2 83.9,467.4 84.4,466.5 84.9,465.7 85.4,464.9 85.9,464.1 86.4,463.3 86.9,462.6 87.4,461.9 87.9,461.3 88.4,460.7 88.9,460.1 89.4,459.6 89.9,459.2 90.4,458.8 90.9,458.4 91.4,458.1 91.9,457.9 92.4,457.7 92.9,457.6 93.4,457.5 93.9,457.5 94.4,457.5 94.9,457.6 95.4,457.8 95.9,458 96.4,458.2 96.9,458.5 97.4,458.8 97.9,459.2 98.4,459.6 98.9,460.1 99.4,460.5 99.9,461.1 100.4,461.6 100.9,462.3 101.4,462.9 101.9,463.5 102.4,464.2 102.9,465 103.4,465.7 103.9,466.5 104.4,467.2 104.9,468 105.4,468.8 105.9,469.7 106.4,470.5 106.9,471.3 107.4,472.2 107.9,473 108.4,473.9 108.9,474.7 109.4,475.6 109.9,476.4 110.4,477.2 110.9,478 111.4,478.9 111.9,479.6 112.4,480.4 112.9,481.2 113.4,482 113.9,482.7 114.4,483.4 114.9,484.1 115.4,484.8 115.9,485.4 116.4,486.1 116.9,486.7 117.4,487.3 117.9,487.9 118.4,488.4 118.9,489 119.4,489.5 119.9,490 120.4,490.4 120.9,490.9 121.4,491.3 121.9,491.7 122.4,492.1 122.9,492.4 123.4,492.8 123.9,493.1 124.4,493.4 124.9,493.7 125.4,494 125.9,494.2 126.4,494.5 126.9,494.7 127.4,494.9 127.9,495.1 128.4,495.3 128.9,495.5 129.4,495.6 129.9,495.8 130.4,495.9 130.9,496 131.4,496.2 131.9,496.3 132.4,496.4 132.9,496.5 133.4,496.6 133.9,496.6 134.4,496.7 134.9,496.8" fill="none" stroke="#00ffff" stroke-width="2.7"/>
<polyline points="40.4,496.5 40.9,496.5 41.4,496.5 41.9,496.5 42.4,496.5 42.9,496.5 43.4,496.5 43.9,496.5 44.4,496.5 44.9,496.5 45.4,496.5 45.9,496.5 46.4,496.5 46.9,496.5 47.4,496.5 47.9,496.5 48.4,496.5 48.9,496.5 49.4,496.5 49.9,496.5 50.4,496.5 50.9,496.5 51.4,496.5 51.9,496.5 52.4,496.5 52.9,496.5 53.4,496.5 53.9,496.5 54.4,496.5 54.9,496.5 55.4,496.5 55.9,496.5 56.4,496.5 56.9,496.5 57.4,496.5 57.9,496.5 58.4,496.5 58.9,496.5 59.4,496.5 59.9,496.5 60.4,496.5 60.9,496.5 61.4,496.5 61.9,496.5 62.4,496.5 62.9,496.5 63.4,496.5 63.9,496.5 64.4,496.5 64.9,496.5 65.4,496.5 65.9,496.5 66.4,496.5 66.9,496.5 67.4,496.5 67.9,496.5 68.4,496.5 68.9,496.5 69.4,496.5 69.9,496.5 70.4,496.5 70.9,496.5 71.4,496.5 71.9,496.5 72.4,496.5 72.9,496.5 73.4,496.5 73.9,496.5 74.4,496.5 74.9,496.5 75.4,496.5 75.9,496.5 76.4,496.5 76.9,496.5 77.4,496.5 77.9,496.5 78.4,496.5 78.9,496.5 79.4,496.5 79.9,496.5 80.4,496.5 80.9,496.5 81.4,496.5 81.9,496.5 82.4,496.5 82.9,496.5 83.4,496.5 83.9,496.5 84.4,496.5 84.9,496.5 85.4,496.5 85.9,496.5 86.4,496.5 86.9,496.5 87.4,496.5 87.9,496.5 88.4,496.5 88.9,496.5 89.4,496.5 89.9,496.5 90.4,496.5 90.9,496.5 91.4,496.5 91.9,496.5 92.4,496.5 92.9,496.5 93.4,496.5 93.9,496.4 94.4,496.4 94.9,496.4 95.4,496.4 95.9,496.4 96.4,496.4 96.9,496.3 97.4,496.3 97.9,496.3 98.4,496.2 98.9,496.1 99.4,496.1 99.9,496 100.4,495.9 100.9,495.8 101.4,495.7 101.9,495.5 102.4,495.3 102.9,495.1 103.4,494.9 103.9,494.7 104.4,494.4 104.9,494 105.4,493.7 105.9,493.2 106.4,492.8 106.9,492.2 107.4,491.6 107.9,490.9 108.4,490.2 108.9,489.4 109.4,488.5 109.9,487.5 110.4,486.4 110.9,485.2 111.4,483.9 111.9,482.4 112.4,480.9 112.9,479.3 113.4,477.5 113.9,475.6 114.4,473.6 114.9,471.5 115.4,469.2 115.9,466.8 116.4,464.3 116.9,461.7 117.4,459 117.9,456.2 118.4,453.3 118.9,450.4 119.4,447.3 119.9,444.3 120.4,441.1 120.9,438 121.4,434.8 121.9,431.7 122.4,428.6 122.9,425.6 123.4,422.6 123.9,419.7 124.4,417 124.9,414.3 125.4,411.9 125.9,409.6 126.4,407.4 126.9,405.5 127.4,403.8 127.9,402.4 128.4,401.2 128.9,400.2 129.4,399.6 129.9,399.1 130.4,399 130.9,399.1 131.4,399.6 131.9,400.2 132.4,401.2 132.9,402.4 133.4,403.8 133.9,405.5 134.4,407.4 134.9,409.6 135.4,411.9 135.9,414.3 136.4,417 136.9,419.7 137.4,422.6 137.9,425.6 138.4,428.6 138.9,431.7 139.4,434.8 139.9,438 140.4,441.1 140.9,444.3 141.4,447.3 141.9,450.4 142.4,453.3 142.9,456.2 143.4,459 143.9,461.7 144.4,464.3 144.9,466.8 145.4,469.2 145.9,471.5 146.4,473.6 146.9,475.6 147.4,477.5 147.9,479.3 148.4,480.9 148.9,482.4 149.4,483.9 149.9,485.2 150.4,486.4 150.9,487.5 151.4,488.5 151.9,489.4 152.4,490.2 152.9,490.9 153.4,491.6 153.9,492.2 154.4,492.8 154.9,493.2 155.4,493.7 155.9,494 156.4,494.4 156.9,494.7 157.4,494.9 157.9,495.1 158.4,495.3 158.9,495.5 159.4,495.7 159.9,495.8 160.4,495.9 160.9,496 161.4,496.1 161.9,496.1 162.4,496.2 162.9,496.3 163.4,496.3 163.9,496.3 164.4,496.4 164.9,496.4 165.4,496.4 165.9,496.4 166.4,496.4 166.9,496.4 167.4,496.5 167.9,496.5 168.4,496.5 168.9,496.5 169.4,496.5 169.9,496.5 170.4,496.5 170.9,496.5 171.4,496.5 171.9,496.5" fill="none" stroke="#0000ff" stroke-width="3.4"/>
<polyline points="133.4,496.6 133.9,496.6 134.4,496.7 134.9,496.8 135.4,496.8 135.9,496.9 136.4,496.9 136.9,497 137.4,497 137.9,497.1 138.4,497.1 138.9,497.1 139.4,497.2 139.9,497.2 140.4,497.2 140.9,497.2 141.4,497.2 141.9,497.3 142.4,497.3 142.9,497.3 143.4,497.3 143.9,497.3 144.4,497.3 144.9,497.3 145.4,497.3 145.9,497.3 146.4,497.4 146.9,497.4 147.4,497.4 147.9,497.4 148.4,497.4 148.9,497.4 149.4,497.4 149.9,497.4 150.4,497.4 150.9,497.4 151.4,497.4 151.9,497.4 152.4,497.4 152.9,497.4 153.4,497.4 153.9,497.4 154.4,497.4 154.9,497.4 155.4,497.4 155.9,497.4 156.4,497.4 156.9,497.4 157.4,497.4 157.9,497.4 158.4,497.4 158.9,497.4 159.4,497.4 159.9,497.4 160.4,497.4 160.9,497.4 161.4,497.4 161.9,497.4 162.4,497.4 162.9,497.4 163.4,497.4 163.9,497.4 164.4,497.4 164.9,497.4 165.4,497.4 165.9,497.4 166.4,497.4 166.9,497.4 167.4,497.4 167.9,497.4 168.4,497.4 168.9,497.4 169.4,497.4 169.9,497.4 170.4,497.4 170.9,497.4 171.4,497.4 171.9,497.4 172.4,497.4 172.9,497.4 173.4,497.4 173.9,497.4 174.4,497.4 174.9,497.4 175.4,497.4 175.9,497.4 176.4,497.4 176.9,497.4 177.4,497.4 177.9,497.4 178.4,497.4 178.9,497.4 179.4,497.4 179.9,497.4 180.4,497.4 180.9,497.4 181.4,497.4 181.9,497.4 182.4,497.4 182.9,497.4 183.4,497.4 183.9,497.4 184.4,497.4 184.9,497.4 185.4,497.4 185.9,497.4 186.4,497.4 186.9,497.4 187.4,497.4 187.9,497.4 188.4,497.4 188.9,497.4 189.4,497.4 189.9,497.4 190.4,497.4 190.9,497.4 191.4,497.4 191.9,497.4 192.4,497.4 192.9,497.4 193.4,497.4 193.9,497.4 194.4,497.4 194.9,497.4 195.4,497.4 195.9,497.4 196.4,497.4 196.9,497.4 197.4,497.4 197.9,497.4 198.4,497.4 198.9,497.4 199.4,497.4 199.9,497.4 200.4,497.4 200.9,497.4 201.4,497.4 201.9,497.4 202.4,497.4 202.9,497.4 203.4,497.4 203.9,497.4 204.4,497.4 204.9,497.4 205.4,497.4 205.9,497.4 206.4,497.4 206.9,497.4 207.4,497.4 207.9,497.4 208.4,497.4 208.9,497.4 209.4,497.4 209.9,497.4 210.4,497.4 210.9,497.4 211.4,497.4 211.9,497.4 212.4,497.4 212.9,497.4 213.4,497.4 213.9,497.4 214.4,497.4 214.9,497.4 215.4,497.4 215.9,497.4 216.4,497.4 216.9,497.4 217.4,497.4 217.9,497.4 218.4,497.4 218.9,497.4 219.4,497.4 219.9,497.4 220.4,497.4 220.9,497.4 221.4,497.4 221.9,497.4 222.4,497.4 222.9,497.4 223.4,497.4 223.9,497.4 224.4,497.4 224.9,497.4 225.4,497.4 225.9,497.4 226.4,497.4 226.9,497.4 227.4,497.4 227.9,497.4 228.4,497.4 228.9,497.4 229.4,497.4 229.9,497.4 230.4,497.4 230.9,497.4 231.4,497.4 231.9,497.4 232.4,497.4 232.9,497.4 233.4,497.4 233.9,497.4 234.4,497.4 234.9,497.4 235.4,497.4 235.9,497.4 236.4,497.4 236.9,497.4 237.4,497.4 237.9,497.4 238.4,497.4 238.9,497.4 239.4,497.4 239.9,497.4 240.4,497.4 240.9,497.4 241.4,497.4 241.9,497.4 242.4,497.4 242.9,497.4 243.4,497.4 243.9,497.4 244.4,497.4 244.9,497.4 245.4,497.4 245.9,497.4 246.4,497.4 246.9,497.4 247.4,497.4 247.9,497.4 248.4,497.4 248.9,497.4 249.4,497.4 249.9,497.4 250.4,497.4 250.9,497.4 251.4,497.4 251.9,497.4 252.4,497.4 252.9,497.4 253.4,497.4 253.9,497.4 254.4,497.4 254.9,497.4 255.4,497.4 255.9,497.4 256.4,497.4 256.9,497.4 257.4,497.4 257.9,497.4 258.4,497.4 258.9,497.4 259.4,497.4 259.9,497.4 260.4,497.4 260.9,497.4 261.4,497.4 261.9,497.4 262.4,497.4 262.9,497.4 263.4,497.4 263.9,497.4 264.4,497.4 264.9,497.4 265.4,497.4 265.9,497.4 266.4,497.4 266.9,497.4 267.4,497.4 267.9,497.4 268.4,497.4 268.9,497.4 269.4,497.4 269.9,497.4 270.4,497.4 270.9,497.4 271.4,497.4 271.9,497.4 272.4,497.4 272.9,497.4 273.4,497.4 273.9,497.4 274.4,497.4 274.9,497.4 275.4,497.4 275.9,497.4 276.4,497.4 276.9,497.4 277.4,497.4 277.9,497.4 278.4,497.4 278.9,497.4 279.4,497.4 279.9,497.4 280.4,497.4 280.9,497.4 281.4,497.4 281.9,497.4 282.4,497.4 282.9,497.4 283.4,497.4 283.9,497.4 284.4,497.4 284.9,497.4 285.4,497.4 285.9,497.4 286.4,497.4 286.9,497.4 287.4,497.4 287.9,497.4 288.4,497.4 288.9,497.4 289.4,497.4 289.9,497.4 290.4,497.4 290.9,497.4 291.4,497.4 291.9,497.4 292.4,497.4 292.9,497.4 293.4,497.4 293.9,497.4 294.4,497.4 294.9,497.4 295.4,497.4 295.9,497.4 296.4,497.4 296.9,497.4 297.4,497.4 297.9,497.4 298.4,497.4 298.9,497.4 299.4,497.4 299.9,497.4 300.4,497.4 300.9,497.4 301.4,497.4 301.9,497.4 302.4,497.4 302.9,497.4 303.4,497.4 303.9,497.4 304.4,497.4 304.9,497.4 305.4,497.4 305.9,497.4 306.4,497.4 306.9,497.4 307.4,497.4 307.9,497.4 308.4,497.4 308.9,497.4 309.4,497.4 309.9,497.4 310.4,497.4 310.9,497.4 311.4,497.4 311.9,497.4 312.4,497.4 312.9,497.4 313.4,497.4 313.9,497.4 314.4,497.4 314.9,497.4 315.4,497.4 315.9,497.4 316.4,497.4 316.9,497.4 317.4,497.4 317.9,497.4 318.4,497.4 318.9,497.4 319.4,497.4 319.9,497.4 320.4,497.4 320.9,497.4 321.4,497.4 321.9,497.4 322.4,497.4 322.9,497.4 323.4,497.4 323.9,497.4 324.4,497.4 324.9,497.4 325.4,497.4 325.9,497.4" fill="none" stroke="#00ffff" stroke-width="2.7"/>
<polyline points="218.4,495.2 218.9,495.2 219.4,495.1 219.9,495.1 220.4,495 220.9,494.9 221.4,494.8 221.9,494.7 222.4,494.6 222.9,494.4 223.4,494.1 223.9,493.9 224.4,493.5 224.9,493.1 225.4,492.7 225.9,492.1 226.4,491.5 226.9,490.7 227.4,489.8 227.9,488.7 228.4,487.5 228.9,486.1 229.4,484.5 229.9,482.6 230.4,480.5 230.9,478.2 231.4,475.5 231.9,472.6 232.4,469.3 232.9,465.7 233.4,461.7 233.9,457.4 234.4,452.7 234.9,447.6 235.4,442.2 235.9,436.4 236.4,430.3 236.9,423.9 237.4,417.2 237.9,410.3 238.4,403.1 238.9,395.8 239.4,388.4 239.9,381 240.4,373.6 240.9,366.4 241.4,359.3 241.9,352.4 242.4,345.9 242.9,339.8 243.4,334.2 243.9,329.1 244.4,324.6 244.9,320.8 245.4,317.7 245.9,315.3 246.4,313.8 246.9,313.1 247.4,313.1 247.9,314 248.4,315.8 248.9,318.2 249.4,321.5 249.9,325.4 250.4,330 250.9,335.2 251.4,341 251.9,347.2 252.4,353.8 252.9,360.7 253.4,367.8 253.9,375.1 254.4,382.5 254.9,389.9 255.4,397.3 255.9,404.6 256.4,411.7 256.9,418.6 257.4,425.2 257.9,431.6 258.4,437.6 258.9,443.3 259.4,448.6 259.9,453.6 260.4,458.3 260.9,462.5 261.4,466.4 261.9,470 262.4,473.2 262.9,476.1 263.4,478.7 263.9,481 264.4,483 264.9,484.8 265.4,486.4 265.9,487.7 266.4,488.9 266.9,490 267.4,490.8 267.9,491.6 268.4,492.2 268.9,492.8 269.4,493.2 269.9,493.6 270.4,493.9 270.9,494.2 271.4,494.4 271.9,494.6 272.4,494.7 272.9,494.8 273.4,494.9 273.9,495 274.4,495.1 274.9,495.1 275.4,495.2 275.9,495.2 276.4,495.2 276.9,495.2 277.4,495.3 277.9,495.3" fill="none" stroke="#2e962e" stroke-width="4.0"/>
<polyline points="178.4,493.9 178.9,493.7 179.4,493.5 179.9,493.3 180.4,493 180.9,492.8 181.4,492.5 181.9,492.1 182.4,491.8 182.9,491.4 183.4,491 183.9,490.6 184.4,490.1 184.9,489.6 185.4,489 185.9,488.5 186.4,487.9 186.9,487.2 187.4,486.5 187.9,485.8 188.4,485 188.9,484.2 189.4,483.4 189.9,482.6 190.4,481.7 190.9,480.8 191.4,479.8 191.9,478.9 192.4,477.9 192.9,476.9 193.4,475.9 193.9,474.9 194.4,473.9 194.9,472.9 195.4,471.9 195.9,470.9 196.4,469.9 196.9,469 197.4,468.1 197.9,467.2 198.4,466.4 198.9,465.6 199.4,464.8 199.9,464.1 200.4,463.5 200.9,462.9 201.4,462.4 201.9,462 202.4,461.6 202.9,461.4 203.4,461.2 203.9,461 204.4,461 204.9,461 205.4,461.2 205.9,461.4 206.4,461.6 206.9,462 207.4,462.4 207.9,462.9 208.4,463.5 208.9,464.1 209.4,464.8 209.9,465.6 210.4,466.4 210.9,467.2 211.4,468.1 211.9,469 212.4,469.9 212.9,470.9 213.4,471.9 213.9,472.9 214.4,473.9 214.9,474.9 215.4,475.9 215.9,476.9 216.4,477.9 216.9,478.9 217.4,479.8 217.9,480.8 218.4,481.7 218.9,482.6 219.4,483.4 219.9,484.2 220.4,485 220.9,485.8 221.4,486.5 221.9,487.2 222.4,487.9 222.9,488.5 223.4,489 223.9,489.6 224.4,490.1 224.9,490.6 225.4,491 225.9,491.4 226.4,491.8 226.9,492.1 227.4,492.5 227.9,492.8" fill="none" stroke="#33dd33" stroke-width="3.7"/>
<line x1="28.4" y1="495.1" x2="325.9" y2="495.1" stroke="#000" stroke-width="1.3"/>
<polyline points="28.4,495.3 28.9,495.3 29.4,495.3 29.9,495.3 30.4,495.3 30.9,495.3 31.4,495.3 31.9,495.3 32.4,495.3 32.9,495.3 33.4,495.3 33.9,495.3 34.4,495.3 34.9,495.3 35.4,495.3 35.9,495.3 36.4,495.3 36.9,495.3 37.4,495.3 37.9,495.3 38.4,495.3 38.9,495.3 39.4,495.3 39.9,495.3 40.4,495.3 40.9,495.3 41.4,495.3 41.9,495.3 42.4,495.3 42.9,495.3 43.4,495.3 43.9,495.3 44.4,495.3 44.9,495.3 45.4,495.3 45.9,495.3 46.4,495.3 46.9,495.3 47.4,495.3 47.9,495.3 48.4,495.3 48.9,495.3 49.4,495.3 49.9,495.3 50.4,495.3 50.9,495.3 51.4,495.3 51.9,495.3 52.4,495.3 52.9,495.3 53.4,495.3 53.9,495.3 54.4,495.3 54.9,495.3 55.4,495.2 55.9,495.2 56.4,495.2 56.9,495.2 57.4,495.2 57.9,495.2 58.4,495.2 58.9,495.1 59.4,495.1 59.9,495.1 60.4,495 60.9,495 61.4,494.9 61.9,494.9 62.4,494.8 62.9,494.7 63.4,494.7 63.9,494.6 64.4,494.5 64.9,494.4 65.4,494.2 65.9,494.1 66.4,493.9 66.9,493.8 67.4,493.6 67.9,493.4 68.4,493.1 68.9,492.9 69.4,492.6 69.9,492.3 70.4,491.9 70.9,491.6 71.4,491.2 71.9,490.8 72.4,490.3 72.9,489.8 73.4,489.3 73.9,488.7 74.4,488.2 74.9,487.5 75.4,486.9 75.9,486.2 76.4,485.4 76.9,484.7 77.4,483.9 77.9,483 78.4,482.2 78.9,481.3 79.4,480.3 79.9,479.4 80.4,478.4 80.9,477.4 81.4,476.4 81.9,475.4 82.4,474.4 82.9,473.4 83.4,472.3 83.9,471.3 84.4,470.3 84.9,469.3 85.4,468.4 85.9,467.4 86.4,466.5 86.9,465.6 87.4,464.8 87.9,464 88.4,463.3 88.9,462.6 89.4,462 89.9,461.5 90.4,461 90.9,460.6 91.4,460.3 91.9,460 92.4,459.9 92.9,459.8 93.4,459.7 93.9,459.8 94.4,459.8 94.9,459.9 95.4,460.1 95.9,460.3 96.4,460.5 96.9,460.7 97.4,461 97.9,461.3 98.4,461.6 98.9,462 99.4,462.4 99.9,462.8 100.4,463.2 100.9,463.6 101.4,464 101.9,464.5 102.4,464.9 102.9,465.3 103.4,465.7 103.9,466.1 104.4,466.4 104.9,466.8 105.4,467 105.9,467.3 106.4,467.5 106.9,467.6 107.4,467.6 107.9,467.6 108.4,467.5 108.9,467.3 109.4,467.1 109.9,466.7 110.4,466.2 110.9,465.6 111.4,464.9 111.9,464 112.4,463 112.9,461.9 113.4,460.7 113.9,459.3 114.4,457.7 114.9,456.1 115.4,454.3 115.9,452.3 116.4,450.3 116.9,448.1 117.4,445.8 117.9,443.4 118.4,440.9 118.9,438.3 119.4,435.7 119.9,433 120.4,430.3 120.9,427.6 121.4,424.8 121.9,422.1 122.4,419.4 122.9,416.8 123.4,414.2 123.9,411.8 124.4,409.5 124.9,407.3 125.4,405.3 125.9,403.4 126.4,401.8 126.9,400.3 127.4,399.1 127.9,398.1 128.4,397.4 128.9,396.9 129.4,396.7 129.9,396.8 130.4,397.1 130.9,397.7 131.4,398.5 131.9,399.6 132.4,400.9 132.9,402.5 133.4,404.3 133.9,406.3 134.4,408.5 134.9,410.9 135.4,413.5 135.9,416.2 136.4,419 136.9,421.9 137.4,424.9 137.9,428 138.4,431.1 138.9,434.3 139.4,437.4 139.9,440.6 140.4,443.7 140.9,446.8 141.4,449.8 141.9,452.8 142.4,455.6 142.9,458.4 143.4,461.1 143.9,463.7 144.4,466.2 144.9,468.5 145.4,470.7 145.9,472.9 146.4,474.8 146.9,476.7 147.4,478.4 147.9,480.1 148.4,481.6 148.9,483 149.4,484.2 149.9,485.4 150.4,486.5 150.9,487.5 151.4,488.4 151.9,489.2 152.4,489.9 152.9,490.6 153.4,491.1 153.9,491.7 154.4,492.1 154.9,492.5 155.4,492.9 155.9,493.2 156.4,493.5 156.9,493.8 157.4,494 157.9,494.2 158.4,494.3 158.9,494.5 159.4,494.6 159.9,494.7 160.4,494.8 160.9,494.9 161.4,495 161.9,495 162.4,495.1 162.9,495.1 163.4,495.1 163.9,495.1 164.4,495.2 164.9,495.2 165.4,495.2 165.9,495.2 166.4,495.2 166.9,495.2 167.4,495.2 167.9,495.2 168.4,495.2 168.9,495.2 169.4,495.2 169.9,495.2 170.4,495.1 170.9,495.1 171.4,495.1 171.9,495.1 172.4,495 172.9,495 173.4,494.9 173.9,494.9 174.4,494.8 174.9,494.7 175.4,494.6 175.9,494.6 176.4,494.4 176.9,494.3 177.4,494.2 177.9,494 178.4,493.9 178.9,493.7 179.4,493.5 179.9,493.3 180.4,493 180.9,492.8 181.4,492.5 181.9,492.1 182.4,491.8 182.9,491.4 183.4,491 183.9,490.6 184.4,490.1 184.9,489.6 185.4,489 185.9,488.5 186.4,487.9 186.9,487.2 187.4,486.5 187.9,485.8 188.4,485 188.9,484.2 189.4,483.4 189.9,482.6 190.4,481.7 190.9,480.8 191.4,479.8 191.9,478.9 192.4,477.9 192.9,476.9 193.4,475.9 193.9,474.9 194.4,473.9 194.9,472.9 195.4,471.9 195.9,470.9 196.4,469.9 196.9,469 197.4,468.1 197.9,467.2 198.4,466.4 198.9,465.6 199.4,464.8 199.9,464.1 200.4,463.5 200.9,462.9 201.4,462.4 201.9,462 202.4,461.6 202.9,461.4 203.4,461.2 203.9,461 204.4,461 204.9,461 205.4,461.2 205.9,461.4 206.4,461.6 206.9,462 207.4,462.4 207.9,462.9 208.4,463.5 208.9,464.1 209.4,464.8 209.9,465.6 210.4,466.4 210.9,467.2 211.4,468.1 211.9,469 212.4,469.9 212.9,470.9 213.4,471.9 213.9,472.9 214.4,473.9 214.9,474.9 215.4,475.9 215.9,476.9 216.4,477.9 216.9,478.8 217.4,479.8 217.9,480.7 218.4,481.6 218.9,482.4 219.4,483.2 219.9,484 220.4,484.7 220.9,485.4 221.4,486 221.9,486.6 222.4,487.1 222.9,487.5 223.4,487.9 223.9,488.2 224.4,488.3 224.9,488.4 225.4,488.4 225.9,488.2 226.4,488 226.9,487.5 227.4,486.9 227.9,486.2 228.4,485.2 228.9,484.1 229.4,482.7 229.9,481 230.4,479.1 230.9,476.9 231.4,474.4 231.9,471.6 232.4,468.4 232.9,464.9 233.4,461 233.9,456.8 234.4,452.2 234.9,447.2 235.4,441.8 235.9,436.1 236.4,430 236.9,423.7 237.4,417 237.9,410.1 238.4,403 238.9,395.7 239.4,388.3 239.9,380.9 240.4,373.6 240.9,366.3 241.4,359.2 241.9,352.4 242.4,345.9 242.9,339.8 243.4,334.1 243.9,329 244.4,324.6 244.9,320.8 245.4,317.7 245.9,315.3 246.4,313.8 246.9,313.1 247.4,313.1 247.9,314 248.4,315.8 248.9,318.2 249.4,321.5 249.9,325.4 250.4,330 250.9,335.2 251.4,341 251.9,347.2 252.4,353.8 252.9,360.7 253.4,367.8 253.9,375.1 254.4,382.5 254.9,389.9 255.4,397.3 255.9,404.6 256.4,411.7 256.9,418.6 257.4,425.2 257.9,431.6 258.4,437.6 258.9,443.3 259.4,448.6 259.9,453.6 260.4,458.3 260.9,462.5 261.4,466.4 261.9,470 262.4,473.2 262.9,476.1 263.4,478.7 263.9,481 264.4,483 264.9,484.8 265.4,486.4 265.9,487.7 266.4,488.9 266.9,490 267.4,490.8 267.9,491.6 268.4,492.2 268.9,492.8 269.4,493.2 269.9,493.6 270.4,493.9 270.9,494.2 271.4,494.4 271.9,494.6 272.4,494.7 272.9,494.8 273.4,494.9 273.9,495 274.4,495.1 274.9,495.1 275.4,495.2 275.9,495.2 276.4,495.2 276.9,495.2 277.4,495.3 277.9,495.3 278.4,495.3 278.9,495.3 279.4,495.3 279.9,495.3 280.4,495.3 280.9,495.3 281.4,495.3 281.9,495.3 282.4,495.3 282.9,495.3 283.4,495.3 283.9,495.3 284.4,495.3 284.9,495.3 285.4,495.3 285.9,495.3 286.4,495.3 286.9,495.3 287.4,495.3 287.9,495.3 288.4,495.3 288.9,495.3 289.4,495.3 289.9,495.3 290.4,495.3 290.9,495.3 291.4,495.3 291.9,495.3 292.4,495.3 292.9,495.3 293.4,495.3 293.9,495.3 294.4,495.3 294.9,495.3 295.4,495.3 295.9,495.3 296.4,495.3 296.9,495.3 297.4,495.3 297.9,495.3 298.4,495.3 298.9,495.3 299.4,495.3 299.9,495.3 300.4,495.3 300.9,495.3 301.4,495.3 301.9,495.3 302.4,495.3 302.9,495.3 303.4,495.3 303.9,495.3 304.4,495.3 304.9,495.3 305.4,495.3 305.9,495.3 306.4,495.3 306.9,495.3 307.4,495.3 307.9,495.3 308.4,495.3 308.9,495.3 309.4,495.3 309.9,495.3 310.4,495.3 310.9,495.3 311.4,495.3 311.9,495.3 312.4,495.3 312.9,495.3 313.4,495.3 313.9,495.3 314.4,495.3 314.9,495.3 315.4,495.3 315.9,495.3 316.4,495.3 316.9,495.3 317.4,495.3 317.9,495.3 318.4,495.3 318.9,495.3 319.4,495.3 319.9,495.3 320.4,495.3 320.9,495.3 321.4,495.3 321.9,495.3 322.4,495.3 322.9,495.3 323.4,495.3 323.9,495.3 324.4,495.3 324.9,495.3 325.4,495.3 325.9,495.3" fill="none" stroke="#dd1a0a" stroke-width="2"/>
<polyline points="185.4,489 185.9,488.5 186.4,487.9 186.9,487.2 187.4,486.5 187.9,485.8 188.4,485 188.9,484.2 189.4,483.4 189.9,482.6 190.4,481.7 190.9,480.8 191.4,479.8 191.9,478.9 192.4,477.9 192.9,476.9 193.4,475.9 193.9,474.9 194.4,473.9 194.9,472.9 195.4,471.9 195.9,470.9 196.4,469.9 196.9,469 197.4,468.1 197.9,467.2 198.4,466.4 198.9,465.6 199.4,464.8 199.9,464.1 200.4,463.5 200.9,462.9 201.4,462.4 201.9,462 202.4,461.6 202.9,461.4 203.4,461.2 203.9,461 204.4,461 204.9,461 205.4,461.2 205.9,461.4 206.4,461.6 206.9,462 207.4,462.4 207.9,462.9 208.4,463.5 208.9,464.1 209.4,464.8 209.9,465.6 210.4,466.4 210.9,467.2 211.4,468.1 211.9,469 212.4,469.9 212.9,470.9 213.4,471.9 213.9,472.9 214.4,473.9 214.9,474.9 215.4,475.9 215.9,476.9 216.4,477.9 216.9,478.8 217.4,479.8 217.9,480.7 218.4,481.6 218.9,482.4 219.4,483.2 219.9,484 220.4,484.7 220.9,485.4 221.4,486 221.9,486.6 222.4,487.1 222.9,487.5 223.4,487.9 223.9,488.2 224.4,488.3 224.9,488.4 225.4,488.4 225.9,488.2 226.4,488 226.9,487.5 227.4,486.9 227.9,486.2 228.4,485.2 228.9,484.1 229.4,482.7 229.9,481 230.4,479.1 230.9,476.9 231.4,474.4 231.9,471.6 232.4,468.4 232.9,464.9 233.4,461 233.9,456.8 234.4,452.2 234.9,447.2 235.4,441.8 235.9,436.1 236.4,430 236.9,423.7 237.4,417 237.9,410.1 238.4,403 238.9,395.7 239.4,388.3 239.9,380.9 240.4,373.6 240.9,366.3 241.4,359.2 241.9,352.4 242.4,345.9 242.9,339.8 243.4,334.1 243.9,329 244.4,324.6 244.9,320.8 245.4,317.7 245.9,315.3 246.4,313.8 246.9,313.1 247.4,313.1 247.9,314 248.4,315.8 248.9,318.2 249.4,321.5 249.9,325.4 250.4,330 250.9,335.2 251.4,341 251.9,347.2 252.4,353.8 252.9,360.7 253.4,367.8 253.9,375.1 254.4,382.5 254.9,389.9 255.4,397.3 255.9,404.6 256.4,411.7 256.9,418.6 257.4,425.2 257.9,431.6 258.4,437.6 258.9,443.3 259.4,448.6 259.9,453.6 260.4,458.3 260.9,462.5 261.4,466.4 261.9,470 262.4,473.2 262.9,476.1 263.4,478.7 263.9,481 264.4,483 264.9,484.8 265.4,486.4 265.9,487.7 266.4,488.9 266.9,490 267.4,490.8 267.9,491.6 268.4,492.2 268.9,492.8 269.4,493.2 269.9,493.6 270.4,493.9 270.9,494.2 271.4,494.4 271.9,494.6" fill="none" stroke="#d01a08" stroke-width="2.1"/>
<rect x="28.4" y="302.3" width="297.5" height="240.3" fill="none" stroke="#383838" stroke-width="1.5"/>
<line x1="28.4" y1="542.6" x2="28.4" y2="547.1" stroke="#383838" stroke-width="1.5"/>
<text x="28.4" y="558" font-family="Liberation Sans, sans-serif" font-size="10" text-anchor="middle" fill="#1e1e1e">890</text>
<line x1="94.5" y1="542.6" x2="94.5" y2="547.1" stroke="#383838" stroke-width="1.5"/>
<text x="94.5" y="558" font-family="Liberation Sans, sans-serif" font-size="10" text-anchor="middle" fill="#1e1e1e">880</text>
<line x1="160.6" y1="542.6" x2="160.6" y2="547.1" stroke="#383838" stroke-width="1.5"/>
<text x="160.6" y="558" font-family="Liberation Sans, sans-serif" font-size="10" text-anchor="middle" fill="#1e1e1e">870</text>
<line x1="226.7" y1="542.6" x2="226.7" y2="547.1" stroke="#383838" stroke-width="1.5"/>
<text x="226.7" y="558" font-family="Liberation Sans, sans-serif" font-size="10" text-anchor="middle" fill="#1e1e1e">860</text>
<line x1="292.8" y1="542.6" x2="292.8" y2="547.1" stroke="#383838" stroke-width="1.5"/>
<text x="292.8" y="558" font-family="Liberation Sans, sans-serif" font-size="10" text-anchor="middle" fill="#1e1e1e">850</text>
<line x1="61.5" y1="542.6" x2="61.5" y2="545.1" stroke="#383838" stroke-width="1.2"/>
<line x1="127.6" y1="542.6" x2="127.6" y2="545.1" stroke="#383838" stroke-width="1.2"/>
<line x1="193.7" y1="542.6" x2="193.7" y2="545.1" stroke="#383838" stroke-width="1.2"/>
<line x1="259.8" y1="542.6" x2="259.8" y2="545.1" stroke="#383838" stroke-width="1.2"/>
<line x1="325.9" y1="542.6" x2="325.9" y2="545.1" stroke="#383838" stroke-width="1.2"/>
<text x="174.2" y="577.8" font-family="Liberation Sans, sans-serif" font-size="12.5" text-anchor="middle" fill="#1e1e1e">Binding Energy (eV)</text>
<text transform="translate(12.4,410.4) rotate(-90)" font-family="Liberation Sans, sans-serif" font-size="12.5" text-anchor="middle" fill="#1e1e1e">Intenisty (au)</text>
<text x="39.6" y="333.3" font-family="Liberation Serif, serif" font-weight="bold" font-size="25.5" fill="#000">(c)</text>
<text x="113.8" y="385.3" font-family="Liberation Sans, sans-serif" font-size="10" fill="#1e1e1e">Ni 2p<tspan font-size="7.5" dy="2.6">1/2</tspan></text>
<text x="105.3" y="411" font-family="Liberation Sans, sans-serif" font-size="10.3" font-weight="bold" fill="#1414ff" stroke="#1414ff" stroke-width="0.3">3+</text>
<text x="73.5" y="455.7" font-family="Liberation Sans, sans-serif" font-size="10" fill="#1e1e1e">sat</text>
<text x="198.4" y="451.7" font-family="Liberation Sans, sans-serif" font-size="10" fill="#1e1e1e">sat</text>
<text x="252.9" y="315.1" font-family="Liberation Sans, sans-serif" font-size="10" fill="#1e1e1e">Ni 2p <tspan font-size="7.5" dy="2.6">3/2</tspan></text>
<text x="223.2" y="340.4" font-family="Liberation Sans, sans-serif" font-size="10" font-weight="bold" fill="#14c88c" stroke="#14c88c" stroke-width="0.35">3+</text>
<line x1="370.1" y1="502.4" x2="669.8" y2="502.4" stroke="#000" stroke-width="1.1"/>
<line x1="428" y1="506.2" x2="528" y2="506.2" stroke="#33cc33" stroke-width="1"/>
<line x1="428" y1="505.3" x2="528" y2="505.3" stroke="#2233dd" stroke-width="1.5"/>
<line x1="528" y1="505.6" x2="669.8" y2="505.6" stroke="#00ffff" stroke-width="2.2"/>
<g fill="none" stroke="#1c1c1c" stroke-width="0.9">
<circle cx="371.3" cy="512.7" r="1.05"/>
<circle cx="371.7" cy="508.8" r="1.05"/>
<circle cx="372.1" cy="508.4" r="1.05"/>
<circle cx="372.6" cy="511.7" r="1.05"/>
<circle cx="373" cy="509.1" r="1.05"/>
<circle cx="373.4" cy="510.6" r="1.05"/>
<circle cx="373.8" cy="513.5" r="1.05"/>
<circle cx="374.2" cy="511" r="1.05"/>
<circle cx="374.7" cy="511.4" r="1.05"/>
<circle cx="375.1" cy="511.8" r="1.05"/>
<circle cx="375.5" cy="510" r="1.05"/>
<circle cx="375.9" cy="512.3" r="1.05"/>
<circle cx="376.3" cy="512.9" r="1.05"/>
<circle cx="376.8" cy="509.3" r="1.05"/>
<circle cx="377.2" cy="511.3" r="1.05"/>
<circle cx="377.6" cy="511.5" r="1.05"/>
<circle cx="378" cy="513" r="1.05"/>
<circle cx="378.4" cy="513.5" r="1.05"/>
<circle cx="378.9" cy="512" r="1.05"/>
<circle cx="379.3" cy="515.9" r="1.05"/>
<circle cx="379.7" cy="509.8" r="1.05"/>
<circle cx="380.1" cy="512.1" r="1.05"/>
<circle cx="380.5" cy="513.8" r="1.05"/>
<circle cx="381" cy="512.4" r="1.05"/>
<circle cx="381.4" cy="511.4" r="1.05"/>
<circle cx="381.8" cy="512.3" r="1.05"/>
<circle cx="382.2" cy="512.5" r="1.05"/>
<circle cx="382.6" cy="512.5" r="1.05"/>
<circle cx="383.1" cy="514.1" r="1.05"/>
<circle cx="383.5" cy="509.5" r="1.05"/>
<circle cx="383.9" cy="513" r="1.05"/>
<circle cx="384.3" cy="512" r="1.05"/>
<circle cx="384.7" cy="512.4" r="1.05"/>
<circle cx="385.2" cy="515.6" r="1.05"/>
<circle cx="385.6" cy="514.5" r="1.05"/>
<circle cx="386" cy="514" r="1.05"/>
<circle cx="386.4" cy="508.5" r="1.05"/>
<circle cx="386.8" cy="513.8" r="1.05"/>
<circle cx="387.3" cy="509.9" r="1.05"/>
<circle cx="387.7" cy="511.1" r="1.05"/>
<circle cx="388.1" cy="511.9" r="1.05"/>
<circle cx="388.5" cy="515.9" r="1.05"/>
<circle cx="388.9" cy="509.3" r="1.05"/>
<circle cx="389.4" cy="514.6" r="1.05"/>
<circle cx="389.8" cy="515.3" r="1.05"/>
<circle cx="390.2" cy="514.2" r="1.05"/>
<circle cx="390.6" cy="512.9" r="1.05"/>
<circle cx="391" cy="514.3" r="1.05"/>
<circle cx="391.5" cy="511" r="1.05"/>
<circle cx="391.9" cy="511.8" r="1.05"/>
<circle cx="392.3" cy="512.6" r="1.05"/>
<circle cx="392.7" cy="510.3" r="1.05"/>
<circle cx="393.1" cy="511.3" r="1.05"/>
<circle cx="393.6" cy="512.1" r="1.05"/>
<circle cx="394" cy="510.6" r="1.05"/>
<circle cx="394.4" cy="513.1" r="1.05"/>
<circle cx="394.8" cy="510.7" r="1.05"/>
<circle cx="395.2" cy="509.3" r="1.05"/>
<circle cx="395.7" cy="510.5" r="1.05"/>
<circle cx="396.1" cy="510" r="1.05"/>
<circle cx="396.5" cy="509.1" r="1.05"/>
<circle cx="396.9" cy="511.8" r="1.05"/>
<circle cx="397.3" cy="513.6" r="1.05"/>
<circle cx="397.8" cy="509.4" r="1.05"/>
<circle cx="398.2" cy="509.7" r="1.05"/>
<circle cx="398.6" cy="509.4" r="1.05"/>
<circle cx="399" cy="507.3" r="1.05"/>
<circle cx="399.4" cy="511.1" r="1.05"/>
<circle cx="399.9" cy="509" r="1.05"/>
<circle cx="400.3" cy="510.9" r="1.05"/>
<circle cx="400.7" cy="508.1" r="1.05"/>
<circle cx="401.1" cy="508.2" r="1.05"/>
<circle cx="401.5" cy="511.1" r="1.05"/>
<circle cx="402" cy="507.5" r="1.05"/>
<circle cx="402.4" cy="508.1" r="1.05"/>
<circle cx="402.8" cy="509.6" r="1.05"/>
<circle cx="403.2" cy="506.5" r="1.05"/>
<circle cx="403.6" cy="508.4" r="1.05"/>
<circle cx="404.1" cy="505" r="1.05"/>
<circle cx="404.5" cy="505.9" r="1.05"/>
<circle cx="404.9" cy="505.1" r="1.05"/>
<circle cx="405.3" cy="507.4" r="1.05"/>
<circle cx="405.7" cy="504.9" r="1.05"/>
<circle cx="406.2" cy="504.2" r="1.05"/>
<circle cx="406.6" cy="506.1" r="1.05"/>
<circle cx="407" cy="507.8" r="1.05"/>
<circle cx="407.4" cy="502.7" r="1.05"/>
<circle cx="407.8" cy="508.4" r="1.05"/>
<circle cx="408.3" cy="501.7" r="1.05"/>
<circle cx="408.7" cy="503" r="1.05"/>
<circle cx="409.1" cy="502.3" r="1.05"/>
<circle cx="409.5" cy="506.7" r="1.05"/>
<circle cx="409.9" cy="504.4" r="1.05"/>
<circle cx="410.4" cy="503.9" r="1.05"/>
<circle cx="410.8" cy="505.4" r="1.05"/>
<circle cx="411.2" cy="504.4" r="1.05"/>
<circle cx="411.6" cy="502.4" r="1.05"/>
<circle cx="412" cy="501.4" r="1.05"/>
<circle cx="412.5" cy="499.6" r="1.05"/>
<circle cx="412.9" cy="504.3" r="1.05"/>
<circle cx="413.3" cy="501.5" r="1.05"/>
<circle cx="413.7" cy="501.6" r="1.05"/>
<circle cx="414.1" cy="502.1" r="1.05"/>
<circle cx="414.6" cy="502.9" r="1.05"/>
<circle cx="415" cy="503.1" r="1.05"/>
<circle cx="415.4" cy="502.9" r="1.05"/>
<circle cx="415.8" cy="505.2" r="1.05"/>
<circle cx="416.2" cy="503.2" r="1.05"/>
<circle cx="416.7" cy="499.4" r="1.05"/>
<circle cx="417.1" cy="502.2" r="1.05"/>
<circle cx="417.5" cy="499.3" r="1.05"/>
<circle cx="417.9" cy="498.6" r="1.05"/>
<circle cx="418.3" cy="501.7" r="1.05"/>
<circle cx="418.8" cy="499.2" r="1.05"/>
<circle cx="419.2" cy="499.8" r="1.05"/>
<circle cx="419.6" cy="502.2" r="1.05"/>
<circle cx="420" cy="502.3" r="1.05"/>
<circle cx="420.4" cy="500.6" r="1.05"/>
<circle cx="420.9" cy="498.7" r="1.05"/>
<circle cx="421.3" cy="495.3" r="1.05"/>
<circle cx="421.7" cy="500.7" r="1.05"/>
<circle cx="422.1" cy="497.3" r="1.05"/>
<circle cx="422.5" cy="499.5" r="1.05"/>
<circle cx="423" cy="499.4" r="1.05"/>
<circle cx="423.4" cy="498.7" r="1.05"/>
<circle cx="423.8" cy="500.9" r="1.05"/>
<circle cx="424.2" cy="498.8" r="1.05"/>
<circle cx="424.6" cy="498.5" r="1.05"/>
<circle cx="425.1" cy="497.5" r="1.05"/>
<circle cx="425.5" cy="500.4" r="1.05"/>
<circle cx="425.9" cy="499.6" r="1.05"/>
<circle cx="426.3" cy="495.6" r="1.05"/>
<circle cx="426.7" cy="498" r="1.05"/>
<circle cx="427.2" cy="498.2" r="1.05"/>
<circle cx="427.6" cy="499.3" r="1.05"/>
<circle cx="428" cy="495.1" r="1.05"/>
<circle cx="428.4" cy="497.4" r="1.05"/>
<circle cx="428.8" cy="498.5" r="1.05"/>
<circle cx="429.3" cy="498" r="1.05"/>
<circle cx="429.7" cy="499" r="1.05"/>
<circle cx="430.1" cy="497.9" r="1.05"/>
<circle cx="430.5" cy="493.9" r="1.05"/>
<circle cx="430.9" cy="496.3" r="1.05"/>
<circle cx="431.4" cy="498.9" r="1.05"/>
<circle cx="431.8" cy="499.8" r="1.05"/>
<circle cx="432.2" cy="498.2" r="1.05"/>
<circle cx="432.6" cy="501.7" r="1.05"/>
<circle cx="433" cy="498.5" r="1.05"/>
<circle cx="433.5" cy="499.7" r="1.05"/>
<circle cx="433.9" cy="500.2" r="1.05"/>
<circle cx="434.3" cy="499.7" r="1.05"/>
<circle cx="434.7" cy="502" r="1.05"/>
<circle cx="435.1" cy="499.2" r="1.05"/>
<circle cx="435.6" cy="498.3" r="1.05"/>
<circle cx="436" cy="501.4" r="1.05"/>
<circle cx="436.4" cy="499.2" r="1.05"/>
<circle cx="436.8" cy="499.1" r="1.05"/>
<circle cx="437.2" cy="500.3" r="1.05"/>
<circle cx="437.7" cy="501.1" r="1.05"/>
<circle cx="438.1" cy="500" r="1.05"/>
<circle cx="438.5" cy="501.9" r="1.05"/>
<circle cx="438.9" cy="498.6" r="1.05"/>
<circle cx="439.3" cy="497.7" r="1.05"/>
<circle cx="439.8" cy="498.8" r="1.05"/>
<circle cx="440.2" cy="499.2" r="1.05"/>
<circle cx="440.6" cy="503.3" r="1.05"/>
<circle cx="441" cy="502.6" r="1.05"/>
<circle cx="441.4" cy="499" r="1.05"/>
<circle cx="441.9" cy="498.3" r="1.05"/>
<circle cx="442.3" cy="499.6" r="1.05"/>
<circle cx="442.7" cy="500.1" r="1.05"/>
<circle cx="443.1" cy="498.4" r="1.05"/>
<circle cx="443.5" cy="499.7" r="1.05"/>
<circle cx="444" cy="498.1" r="1.05"/>
<circle cx="444.4" cy="496.2" r="1.05"/>
<circle cx="444.8" cy="496.8" r="1.05"/>
<circle cx="445.2" cy="497.9" r="1.05"/>
<circle cx="445.6" cy="498.2" r="1.05"/>
<circle cx="446.1" cy="496.6" r="1.05"/>
<circle cx="446.5" cy="495.9" r="1.05"/>
<circle cx="446.9" cy="496.7" r="1.05"/>
<circle cx="447.3" cy="497.8" r="1.05"/>
<circle cx="447.7" cy="495.6" r="1.05"/>
<circle cx="448.2" cy="492.6" r="1.05"/>
<circle cx="448.6" cy="491.9" r="1.05"/>
<circle cx="449" cy="493.5" r="1.05"/>
<circle cx="449.4" cy="490.9" r="1.05"/>
<circle cx="449.8" cy="489" r="1.05"/>
<circle cx="450.3" cy="487.5" r="1.05"/>
<circle cx="450.7" cy="487.2" r="1.05"/>
<circle cx="451.1" cy="488.2" r="1.05"/>
<circle cx="451.5" cy="486.5" r="1.05"/>
<circle cx="451.9" cy="484.7" r="1.05"/>
<circle cx="452.4" cy="484.4" r="1.05"/>
<circle cx="452.8" cy="481.9" r="1.05"/>
<circle cx="453.2" cy="483" r="1.05"/>
<circle cx="453.6" cy="481.4" r="1.05"/>
<circle cx="454" cy="480.8" r="1.05"/>
<circle cx="454.5" cy="478.1" r="1.05"/>
<circle cx="454.9" cy="478.4" r="1.05"/>
<circle cx="455.3" cy="474.6" r="1.05"/>
<circle cx="455.7" cy="475.6" r="1.05"/>
<circle cx="456.1" cy="474.4" r="1.05"/>
<circle cx="456.6" cy="471.6" r="1.05"/>
<circle cx="457" cy="471.5" r="1.05"/>
<circle cx="457.4" cy="470.5" r="1.05"/>
<circle cx="457.8" cy="465.5" r="1.05"/>
<circle cx="458.2" cy="464.2" r="1.05"/>
<circle cx="458.7" cy="462" r="1.05"/>
<circle cx="459.1" cy="462.7" r="1.05"/>
<circle cx="459.5" cy="459.4" r="1.05"/>
<circle cx="459.9" cy="456.6" r="1.05"/>
<circle cx="460.3" cy="456.9" r="1.05"/>
<circle cx="460.8" cy="453.8" r="1.05"/>
<circle cx="461.2" cy="455.8" r="1.05"/>
<circle cx="461.6" cy="451.8" r="1.05"/>
<circle cx="462" cy="451" r="1.05"/>
<circle cx="462.4" cy="447.6" r="1.05"/>
<circle cx="462.9" cy="445.5" r="1.05"/>
<circle cx="463.3" cy="446" r="1.05"/>
<circle cx="463.7" cy="445" r="1.05"/>
<circle cx="464.1" cy="441.4" r="1.05"/>
<circle cx="464.5" cy="439.5" r="1.05"/>
<circle cx="465" cy="439" r="1.05"/>
<circle cx="465.4" cy="438.7" r="1.05"/>
<circle cx="465.8" cy="435.8" r="1.05"/>
<circle cx="466.2" cy="436.9" r="1.05"/>
<circle cx="466.6" cy="434.5" r="1.05"/>
<circle cx="467.1" cy="434.2" r="1.05"/>
<circle cx="467.5" cy="430.3" r="1.05"/>
<circle cx="467.9" cy="428.7" r="1.05"/>
<circle cx="468.3" cy="434.3" r="1.05"/>
<circle cx="468.7" cy="433.7" r="1.05"/>
<circle cx="469.2" cy="434.2" r="1.05"/>
<circle cx="469.6" cy="432.4" r="1.05"/>
<circle cx="470" cy="431.2" r="1.05"/>
<circle cx="470.4" cy="428.9" r="1.05"/>
<circle cx="470.8" cy="429.6" r="1.05"/>
<circle cx="471.3" cy="428.2" r="1.05"/>
<circle cx="471.7" cy="428" r="1.05"/>
<circle cx="472.1" cy="426.8" r="1.05"/>
<circle cx="472.5" cy="425.6" r="1.05"/>
<circle cx="472.9" cy="426.4" r="1.05"/>
<circle cx="473.4" cy="426.9" r="1.05"/>
<circle cx="473.8" cy="425.2" r="1.05"/>
<circle cx="474.2" cy="426.1" r="1.05"/>
<circle cx="474.6" cy="427.7" r="1.05"/>
<circle cx="475" cy="426.7" r="1.05"/>
<circle cx="475.5" cy="427.3" r="1.05"/>
<circle cx="475.9" cy="425.8" r="1.05"/>
<circle cx="476.3" cy="427.2" r="1.05"/>
<circle cx="476.7" cy="426.2" r="1.05"/>
<circle cx="477.1" cy="427.7" r="1.05"/>
<circle cx="477.6" cy="427.4" r="1.05"/>
<circle cx="478" cy="428.8" r="1.05"/>
<circle cx="478.4" cy="428.3" r="1.05"/>
<circle cx="478.8" cy="430.8" r="1.05"/>
<circle cx="479.2" cy="431.1" r="1.05"/>
<circle cx="479.7" cy="432.5" r="1.05"/>
<circle cx="480.1" cy="433" r="1.05"/>
<circle cx="480.5" cy="432.2" r="1.05"/>
<circle cx="480.9" cy="435.3" r="1.05"/>
<circle cx="481.3" cy="437.9" r="1.05"/>
<circle cx="481.8" cy="438.4" r="1.05"/>
<circle cx="482.2" cy="439.6" r="1.05"/>
<circle cx="482.6" cy="442.1" r="1.05"/>
<circle cx="483" cy="444.7" r="1.05"/>
<circle cx="483.4" cy="445" r="1.05"/>
<circle cx="483.9" cy="446.2" r="1.05"/>
<circle cx="484.3" cy="446.4" r="1.05"/>
<circle cx="484.7" cy="448.1" r="1.05"/>
<circle cx="485.1" cy="451.6" r="1.05"/>
<circle cx="485.5" cy="452.4" r="1.05"/>
<circle cx="486" cy="453.9" r="1.05"/>
<circle cx="486.4" cy="456.1" r="1.05"/>
<circle cx="486.8" cy="456.6" r="1.05"/>
<circle cx="487.2" cy="456.4" r="1.05"/>
<circle cx="487.6" cy="460.4" r="1.05"/>
<circle cx="488.1" cy="463.2" r="1.05"/>
<circle cx="488.5" cy="463.5" r="1.05"/>
<circle cx="488.9" cy="465.5" r="1.05"/>
<circle cx="489.3" cy="467.7" r="1.05"/>
<circle cx="489.7" cy="470.3" r="1.05"/>
<circle cx="490.2" cy="470.1" r="1.05"/>
<circle cx="490.6" cy="477.8" r="1.05"/>
<circle cx="491" cy="484.9" r="1.05"/>
<circle cx="491.4" cy="486.8" r="1.05"/>
<circle cx="491.8" cy="494.5" r="1.05"/>
<circle cx="492.3" cy="497.2" r="1.05"/>
<circle cx="492.7" cy="499.2" r="1.05"/>
<circle cx="493.1" cy="498.5" r="1.05"/>
<circle cx="493.5" cy="498.4" r="1.05"/>
<circle cx="493.9" cy="498.7" r="1.05"/>
<circle cx="494.4" cy="499.5" r="1.05"/>
<circle cx="494.8" cy="501.4" r="1.05"/>
<circle cx="495.2" cy="501.4" r="1.05"/>
<circle cx="495.6" cy="504" r="1.05"/>
<circle cx="496" cy="504.1" r="1.05"/>
<circle cx="496.5" cy="502.1" r="1.05"/>
<circle cx="496.9" cy="506.5" r="1.05"/>
<circle cx="497.3" cy="505.8" r="1.05"/>
<circle cx="497.7" cy="503.1" r="1.05"/>
<circle cx="498.1" cy="506.7" r="1.05"/>
<circle cx="498.6" cy="507.4" r="1.05"/>
<circle cx="499" cy="507.7" r="1.05"/>
<circle cx="499.4" cy="506.2" r="1.05"/>
<circle cx="499.8" cy="508.2" r="1.05"/>
<circle cx="500.2" cy="508" r="1.05"/>
<circle cx="500.7" cy="506.9" r="1.05"/>
<circle cx="501.1" cy="509.8" r="1.05"/>
<circle cx="501.5" cy="508.2" r="1.05"/>
<circle cx="501.9" cy="508.8" r="1.05"/>
<circle cx="502.3" cy="508.3" r="1.05"/>
<circle cx="502.8" cy="510.3" r="1.05"/>
<circle cx="503.2" cy="508.6" r="1.05"/>
<circle cx="503.6" cy="507.1" r="1.05"/>
<circle cx="504" cy="507" r="1.05"/>
<circle cx="504.4" cy="506.1" r="1.05"/>
<circle cx="504.9" cy="507.9" r="1.05"/>
<circle cx="505.3" cy="508.3" r="1.05"/>
<circle cx="505.7" cy="507.9" r="1.05"/>
<circle cx="506.1" cy="512" r="1.05"/>
<circle cx="506.5" cy="508.3" r="1.05"/>
<circle cx="507" cy="507.8" r="1.05"/>
<circle cx="507.4" cy="508.3" r="1.05"/>
<circle cx="507.8" cy="508.1" r="1.05"/>
<circle cx="508.2" cy="509.9" r="1.05"/>
<circle cx="508.6" cy="508.2" r="1.05"/>
<circle cx="509.1" cy="506.5" r="1.05"/>
<circle cx="509.5" cy="507.8" r="1.05"/>
<circle cx="509.9" cy="509.8" r="1.05"/>
<circle cx="510.3" cy="508" r="1.05"/>
<circle cx="510.7" cy="506.6" r="1.05"/>
<circle cx="511.2" cy="507.2" r="1.05"/>
<circle cx="511.6" cy="505.7" r="1.05"/>
<circle cx="512" cy="504.3" r="1.05"/>
<circle cx="512.4" cy="503.7" r="1.05"/>
<circle cx="512.8" cy="505.8" r="1.05"/>
<circle cx="513.3" cy="502.9" r="1.05"/>
<circle cx="513.7" cy="503.6" r="1.05"/>
<circle cx="514.1" cy="501.5" r="1.05"/>
<circle cx="514.5" cy="502.1" r="1.05"/>
<circle cx="514.9" cy="505.6" r="1.05"/>
<circle cx="515.4" cy="499.7" r="1.05"/>
<circle cx="515.8" cy="503.7" r="1.05"/>
<circle cx="516.2" cy="502.4" r="1.05"/>
<circle cx="516.6" cy="502" r="1.05"/>
<circle cx="517" cy="500.6" r="1.05"/>
<circle cx="517.5" cy="503.4" r="1.05"/>
<circle cx="517.9" cy="501.1" r="1.05"/>
<circle cx="518.3" cy="502.5" r="1.05"/>
<circle cx="518.7" cy="503.3" r="1.05"/>
<circle cx="519.1" cy="500.8" r="1.05"/>
<circle cx="519.6" cy="500.5" r="1.05"/>
<circle cx="520" cy="500.2" r="1.05"/>
<circle cx="520.4" cy="499.5" r="1.05"/>
<circle cx="520.8" cy="499.9" r="1.05"/>
<circle cx="521.2" cy="501.4" r="1.05"/>
<circle cx="521.7" cy="502.8" r="1.05"/>
<circle cx="522.1" cy="499.9" r="1.05"/>
<circle cx="522.5" cy="498.3" r="1.05"/>
<circle cx="522.9" cy="501.3" r="1.05"/>
<circle cx="523.3" cy="502.9" r="1.05"/>
<circle cx="523.8" cy="503.9" r="1.05"/>
<circle cx="524.2" cy="502.8" r="1.05"/>
<circle cx="524.6" cy="503.5" r="1.05"/>
<circle cx="525" cy="502" r="1.05"/>
<circle cx="525.4" cy="503.4" r="1.05"/>
<circle cx="525.9" cy="502.3" r="1.05"/>
<circle cx="526.3" cy="499.5" r="1.05"/>
<circle cx="526.7" cy="502.2" r="1.05"/>
<circle cx="527.1" cy="501.1" r="1.05"/>
<circle cx="527.5" cy="501.6" r="1.05"/>
<circle cx="528" cy="503" r="1.05"/>
<circle cx="528.4" cy="501.9" r="1.05"/>
<circle cx="528.8" cy="503" r="1.05"/>
<circle cx="529.2" cy="506.1" r="1.05"/>
<circle cx="529.6" cy="505.1" r="1.05"/>
<circle cx="530.1" cy="504.7" r="1.05"/>
<circle cx="530.5" cy="503.7" r="1.05"/>
<circle cx="530.9" cy="506.5" r="1.05"/>
<circle cx="531.3" cy="505.6" r="1.05"/>
<circle cx="531.7" cy="506.7" r="1.05"/>
<circle cx="532.2" cy="507.1" r="1.05"/>
<circle cx="532.6" cy="505.8" r="1.05"/>
<circle cx="533" cy="507.6" r="1.05"/>
<circle cx="533.4" cy="506.9" r="1.05"/>
<circle cx="533.8" cy="508.7" r="1.05"/>
<circle cx="534.3" cy="508.8" r="1.05"/>
<circle cx="534.7" cy="508.4" r="1.05"/>
<circle cx="535.1" cy="510.8" r="1.05"/>
<circle cx="535.5" cy="508.6" r="1.05"/>
<circle cx="535.9" cy="507.6" r="1.05"/>
<circle cx="536.4" cy="509.4" r="1.05"/>
<circle cx="536.8" cy="510.2" r="1.05"/>
<circle cx="537.2" cy="511" r="1.05"/>
<circle cx="537.6" cy="510.1" r="1.05"/>
<circle cx="538" cy="510.7" r="1.05"/>
<circle cx="538.5" cy="509.6" r="1.05"/>
<circle cx="538.9" cy="512.3" r="1.05"/>
<circle cx="539.3" cy="509.5" r="1.05"/>
<circle cx="539.7" cy="510.4" r="1.05"/>
<circle cx="540.1" cy="510.2" r="1.05"/>
<circle cx="540.6" cy="510.4" r="1.05"/>
<circle cx="541" cy="511.2" r="1.05"/>
<circle cx="541.4" cy="510.1" r="1.05"/>
<circle cx="541.8" cy="510.9" r="1.05"/>
<circle cx="542.2" cy="511.7" r="1.05"/>
<circle cx="542.7" cy="509.7" r="1.05"/>
<circle cx="543.1" cy="508" r="1.05"/>
<circle cx="543.5" cy="510.4" r="1.05"/>
<circle cx="543.9" cy="509.6" r="1.05"/>
<circle cx="544.3" cy="508.7" r="1.05"/>
<circle cx="544.8" cy="510.3" r="1.05"/>
<circle cx="545.2" cy="510.2" r="1.05"/>
<circle cx="545.6" cy="512.8" r="1.05"/>
<circle cx="546" cy="510.6" r="1.05"/>
<circle cx="546.4" cy="509.2" r="1.05"/>
<circle cx="546.9" cy="508.9" r="1.05"/>
<circle cx="547.3" cy="504.3" r="1.05"/>
<circle cx="547.7" cy="509.1" r="1.05"/>
<circle cx="548.1" cy="509.1" r="1.05"/>
<circle cx="548.5" cy="507.3" r="1.05"/>
<circle cx="549" cy="506.4" r="1.05"/>
<circle cx="549.4" cy="506.4" r="1.05"/>
<circle cx="549.8" cy="508.6" r="1.05"/>
<circle cx="550.2" cy="506" r="1.05"/>
<circle cx="550.6" cy="505.7" r="1.05"/>
<circle cx="551.1" cy="503.6" r="1.05"/>
<circle cx="551.5" cy="504.9" r="1.05"/>
<circle cx="551.9" cy="503.3" r="1.05"/>
<circle cx="552.3" cy="502.6" r="1.05"/>
<circle cx="552.7" cy="504.2" r="1.05"/>
<circle cx="553.2" cy="503.3" r="1.05"/>
<circle cx="553.6" cy="503.1" r="1.05"/>
<circle cx="554" cy="502.2" r="1.05"/>
<circle cx="554.4" cy="502.7" r="1.05"/>
<circle cx="554.8" cy="503.8" r="1.05"/>
<circle cx="555.3" cy="502.4" r="1.05"/>
<circle cx="555.7" cy="503.3" r="1.05"/>
<circle cx="556.1" cy="502.8" r="1.05"/>
<circle cx="556.5" cy="501.4" r="1.05"/>
<circle cx="556.9" cy="500.1" r="1.05"/>
<circle cx="557.4" cy="503.7" r="1.05"/>
<circle cx="557.8" cy="500.8" r="1.05"/>
<circle cx="558.2" cy="500.6" r="1.05"/>
<circle cx="558.6" cy="499.3" r="1.05"/>
<circle cx="559" cy="501.1" r="1.05"/>
<circle cx="559.5" cy="500.8" r="1.05"/>
<circle cx="559.9" cy="500" r="1.05"/>
<circle cx="560.3" cy="498.6" r="1.05"/>
<circle cx="560.7" cy="497.1" r="1.05"/>
<circle cx="561.1" cy="496.8" r="1.05"/>
<circle cx="561.6" cy="497.1" r="1.05"/>
<circle cx="562" cy="496.9" r="1.05"/>
<circle cx="562.4" cy="497.7" r="1.05"/>
<circle cx="562.8" cy="497.5" r="1.05"/>
<circle cx="563.2" cy="495.7" r="1.05"/>
<circle cx="563.7" cy="496.2" r="1.05"/>
<circle cx="564.1" cy="494.9" r="1.05"/>
<circle cx="564.5" cy="494.7" r="1.05"/>
<circle cx="564.9" cy="495.1" r="1.05"/>
<circle cx="565.3" cy="493.5" r="1.05"/>
<circle cx="565.8" cy="493.3" r="1.05"/>
<circle cx="566.2" cy="493.1" r="1.05"/>
<circle cx="566.6" cy="493" r="1.05"/>
<circle cx="567" cy="490.9" r="1.05"/>
<circle cx="567.4" cy="491.2" r="1.05"/>
<circle cx="567.9" cy="487.4" r="1.05"/>
<circle cx="568.3" cy="490.8" r="1.05"/>
<circle cx="568.7" cy="488.2" r="1.05"/>
<circle cx="569.1" cy="486.6" r="1.05"/>
<circle cx="569.5" cy="488" r="1.05"/>
<circle cx="570" cy="487.9" r="1.05"/>
<circle cx="570.4" cy="487.6" r="1.05"/>
<circle cx="570.8" cy="486.1" r="1.05"/>
<circle cx="571.2" cy="484.1" r="1.05"/>
<circle cx="571.6" cy="484.5" r="1.05"/>
<circle cx="572.1" cy="483.7" r="1.05"/>
<circle cx="572.5" cy="482.3" r="1.05"/>
<circle cx="572.9" cy="481.3" r="1.05"/>
<circle cx="573.3" cy="481.5" r="1.05"/>
<circle cx="573.7" cy="481" r="1.05"/>
<circle cx="574.2" cy="478" r="1.05"/>
<circle cx="574.6" cy="477.7" r="1.05"/>
<circle cx="575" cy="477.7" r="1.05"/>
<circle cx="575.4" cy="477.2" r="1.05"/>
<circle cx="575.8" cy="476.8" r="1.05"/>
<circle cx="576.3" cy="472.7" r="1.05"/>
<circle cx="576.7" cy="474" r="1.05"/>
<circle cx="577.1" cy="471.3" r="1.05"/>
<circle cx="577.5" cy="468.4" r="1.05"/>
<circle cx="577.9" cy="470.3" r="1.05"/>
<circle cx="578.4" cy="468.5" r="1.05"/>
<circle cx="578.8" cy="467" r="1.05"/>
<circle cx="579.2" cy="466.5" r="1.05"/>
<circle cx="579.6" cy="465.8" r="1.05"/>
<circle cx="580" cy="463.5" r="1.05"/>
<circle cx="580.5" cy="463.1" r="1.05"/>
<circle cx="580.9" cy="460.6" r="1.05"/>
<circle cx="581.3" cy="461.5" r="1.05"/>
<circle cx="581.7" cy="459.7" r="1.05"/>
<circle cx="582.1" cy="458" r="1.05"/>
<circle cx="582.6" cy="456.9" r="1.05"/>
<circle cx="583" cy="456" r="1.05"/>
<circle cx="583.4" cy="454.8" r="1.05"/>
<circle cx="583.8" cy="453" r="1.05"/>
<circle cx="584.2" cy="450.6" r="1.05"/>
<circle cx="584.7" cy="447.5" r="1.05"/>
<circle cx="585.1" cy="447.3" r="1.05"/>
<circle cx="585.5" cy="445.8" r="1.05"/>
<circle cx="585.9" cy="443.9" r="1.05"/>
<circle cx="586.3" cy="440.4" r="1.05"/>
<circle cx="586.8" cy="439.8" r="1.05"/>
<circle cx="587.2" cy="435.6" r="1.05"/>
<circle cx="587.6" cy="432.9" r="1.05"/>
<circle cx="588" cy="431" r="1.05"/>
<circle cx="588.4" cy="428.9" r="1.05"/>
<circle cx="588.9" cy="425.1" r="1.05"/>
<circle cx="589.3" cy="421.5" r="1.05"/>
<circle cx="589.7" cy="418" r="1.05"/>
<circle cx="590.1" cy="417.8" r="1.05"/>
<circle cx="590.5" cy="413.6" r="1.05"/>
<circle cx="591" cy="411.2" r="1.05"/>
<circle cx="591.4" cy="406.8" r="1.05"/>
<circle cx="591.8" cy="404.5" r="1.05"/>
<circle cx="592.2" cy="400.9" r="1.05"/>
<circle cx="592.6" cy="397.4" r="1.05"/>
<circle cx="593.1" cy="393.1" r="1.05"/>
<circle cx="593.5" cy="389.8" r="1.05"/>
<circle cx="593.9" cy="388.3" r="1.05"/>
<circle cx="594.3" cy="381.5" r="1.05"/>
<circle cx="594.7" cy="380.3" r="1.05"/>
<circle cx="595.2" cy="378.8" r="1.05"/>
<circle cx="595.6" cy="374.7" r="1.05"/>
<circle cx="596" cy="370.5" r="1.05"/>
<circle cx="596.4" cy="367.1" r="1.05"/>
<circle cx="596.8" cy="363.2" r="1.05"/>
<circle cx="597.3" cy="363.4" r="1.05"/>
<circle cx="597.7" cy="357.9" r="1.05"/>
<circle cx="598.1" cy="355.7" r="1.05"/>
<circle cx="598.5" cy="354.2" r="1.05"/>
<circle cx="598.9" cy="351" r="1.05"/>
<circle cx="599.4" cy="348.1" r="1.05"/>
<circle cx="599.8" cy="344.7" r="1.05"/>
<circle cx="600.2" cy="351.9" r="1.05"/>
<circle cx="600.6" cy="348.3" r="1.05"/>
<circle cx="601" cy="347" r="1.05"/>
<circle cx="601.5" cy="343.2" r="1.05"/>
<circle cx="601.9" cy="341.7" r="1.05"/>
<circle cx="602.3" cy="340.1" r="1.05"/>
<circle cx="602.7" cy="338.4" r="1.05"/>
<circle cx="603.1" cy="335.1" r="1.05"/>
<circle cx="603.6" cy="334.2" r="1.05"/>
<circle cx="604" cy="332.2" r="1.05"/>
<circle cx="604.4" cy="330.6" r="1.05"/>
<circle cx="604.8" cy="330.9" r="1.05"/>
<circle cx="605.2" cy="329.7" r="1.05"/>
<circle cx="605.7" cy="328" r="1.05"/>
<circle cx="606.1" cy="328.2" r="1.05"/>
<circle cx="606.5" cy="326.3" r="1.05"/>
<circle cx="606.9" cy="326.8" r="1.05"/>
<circle cx="607.3" cy="326.2" r="1.05"/>
<circle cx="607.8" cy="327.5" r="1.05"/>
<circle cx="608.2" cy="329.5" r="1.05"/>
<circle cx="608.6" cy="329.4" r="1.05"/>
<circle cx="609" cy="329.9" r="1.05"/>
<circle cx="609.4" cy="331.6" r="1.05"/>
<circle cx="609.9" cy="332.4" r="1.05"/>
<circle cx="610.3" cy="334.4" r="1.05"/>
<circle cx="610.7" cy="334.6" r="1.05"/>
<circle cx="611.1" cy="338" r="1.05"/>
<circle cx="611.5" cy="339.2" r="1.05"/>
<circle cx="612" cy="342.6" r="1.05"/>
<circle cx="612.4" cy="344.9" r="1.05"/>
<circle cx="612.8" cy="347.8" r="1.05"/>
<circle cx="613.2" cy="349.3" r="1.05"/>
<circle cx="613.6" cy="355.3" r="1.05"/>
<circle cx="614.1" cy="356.1" r="1.05"/>
<circle cx="614.5" cy="359.9" r="1.05"/>
<circle cx="614.9" cy="363.5" r="1.05"/>
<circle cx="615.3" cy="367.1" r="1.05"/>
<circle cx="615.7" cy="370.2" r="1.05"/>
<circle cx="616.2" cy="376" r="1.05"/>
<circle cx="616.6" cy="380.9" r="1.05"/>
<circle cx="617" cy="384.2" r="1.05"/>
<circle cx="617.4" cy="387" r="1.05"/>
<circle cx="617.8" cy="392.8" r="1.05"/>
<circle cx="618.3" cy="399.1" r="1.05"/>
<circle cx="618.7" cy="402.6" r="1.05"/>
<circle cx="619.1" cy="408.4" r="1.05"/>
<circle cx="619.5" cy="413.8" r="1.05"/>
<circle cx="619.9" cy="419.1" r="1.05"/>
<circle cx="620.4" cy="425.6" r="1.05"/>
<circle cx="620.8" cy="431.4" r="1.05"/>
<circle cx="621.2" cy="433.9" r="1.05"/>
<circle cx="621.6" cy="439.1" r="1.05"/>
<circle cx="622" cy="447.1" r="1.05"/>
<circle cx="622.5" cy="450.8" r="1.05"/>
<circle cx="622.9" cy="454.9" r="1.05"/>
<circle cx="623.3" cy="458" r="1.05"/>
<circle cx="623.7" cy="462.7" r="1.05"/>
<circle cx="624.1" cy="464.5" r="1.05"/>
<circle cx="624.6" cy="471.7" r="1.05"/>
<circle cx="625" cy="472.9" r="1.05"/>
<circle cx="625.4" cy="475.8" r="1.05"/>
<circle cx="625.8" cy="477.9" r="1.05"/>
<circle cx="626.2" cy="481.4" r="1.05"/>
<circle cx="626.7" cy="482" r="1.05"/>
<circle cx="627.1" cy="483.9" r="1.05"/>
<circle cx="627.5" cy="484.5" r="1.05"/>
<circle cx="627.9" cy="486.7" r="1.05"/>
<circle cx="628.3" cy="488.5" r="1.05"/>
<circle cx="628.8" cy="490.8" r="1.05"/>
<circle cx="629.2" cy="490.1" r="1.05"/>
<circle cx="629.6" cy="490.8" r="1.05"/>
<circle cx="630" cy="491.9" r="1.05"/>
<circle cx="630.4" cy="492.8" r="1.05"/>
<circle cx="630.9" cy="495.8" r="1.05"/>
<circle cx="631.3" cy="493" r="1.05"/>
<circle cx="631.7" cy="495.5" r="1.05"/>
<circle cx="632.1" cy="497.4" r="1.05"/>
<circle cx="632.5" cy="497.8" r="1.05"/>
<circle cx="633" cy="497.1" r="1.05"/>
<circle cx="633.4" cy="497.8" r="1.05"/>
<circle cx="633.8" cy="497.1" r="1.05"/>
<circle cx="634.2" cy="498" r="1.05"/>
<circle cx="634.6" cy="497" r="1.05"/>
<circle cx="635.1" cy="500" r="1.05"/>
<circle cx="635.5" cy="499.5" r="1.05"/>
<circle cx="635.9" cy="499.5" r="1.05"/>
<circle cx="636.3" cy="499.8" r="1.05"/>
<circle cx="636.7" cy="500" r="1.05"/>
<circle cx="637.2" cy="500.7" r="1.05"/>
<circle cx="637.6" cy="500.9" r="1.05"/>
<circle cx="638" cy="503.1" r="1.05"/>
<circle cx="638.4" cy="500.9" r="1.05"/>
<circle cx="638.8" cy="501.6" r="1.05"/>
<circle cx="639.3" cy="501.9" r="1.05"/>
<circle cx="639.7" cy="502.9" r="1.05"/>
<circle cx="640.1" cy="502.7" r="1.05"/>
<circle cx="640.5" cy="503.3" r="1.05"/>
<circle cx="640.9" cy="502.6" r="1.05"/>
<circle cx="641.4" cy="502.5" r="1.05"/>
<circle cx="641.8" cy="502.6" r="1.05"/>
<circle cx="642.2" cy="502.2" r="1.05"/>
<circle cx="642.6" cy="501.6" r="1.05"/>
<circle cx="643" cy="501.1" r="1.05"/>
<circle cx="643.5" cy="499.5" r="1.05"/>
<circle cx="643.9" cy="502" r="1.05"/>
<circle cx="644.3" cy="500.5" r="1.05"/>
<circle cx="644.7" cy="501.2" r="1.05"/>
<circle cx="645.1" cy="502.5" r="1.05"/>
<circle cx="645.6" cy="499" r="1.05"/>
<circle cx="646" cy="501.5" r="1.05"/>
<circle cx="646.4" cy="500.8" r="1.05"/>
<circle cx="646.8" cy="498.2" r="1.05"/>
<circle cx="647.2" cy="500.2" r="1.05"/>
<circle cx="647.7" cy="498.8" r="1.05"/>
<circle cx="648.1" cy="501.4" r="1.05"/>
<circle cx="648.5" cy="500.2" r="1.05"/>
<circle cx="648.9" cy="502.1" r="1.05"/>
<circle cx="649.3" cy="499.7" r="1.05"/>
<circle cx="649.8" cy="501.1" r="1.05"/>
<circle cx="650.2" cy="500.3" r="1.05"/>
<circle cx="650.6" cy="497.8" r="1.05"/>
<circle cx="651" cy="500.8" r="1.05"/>
<circle cx="651.4" cy="498.7" r="1.05"/>
<circle cx="651.9" cy="498.4" r="1.05"/>
<circle cx="652.3" cy="500.9" r="1.05"/>
<circle cx="652.7" cy="498.4" r="1.05"/>
<circle cx="653.1" cy="498.4" r="1.05"/>
<circle cx="653.5" cy="500.1" r="1.05"/>
<circle cx="654" cy="499.3" r="1.05"/>
<circle cx="654.4" cy="498.6" r="1.05"/>
<circle cx="654.8" cy="501.1" r="1.05"/>
<circle cx="655.2" cy="499.9" r="1.05"/>
<circle cx="655.6" cy="500.6" r="1.05"/>
<circle cx="656.1" cy="501.4" r="1.05"/>
<circle cx="656.5" cy="499.9" r="1.05"/>
<circle cx="656.9" cy="502.7" r="1.05"/>
<circle cx="657.3" cy="498.6" r="1.05"/>
<circle cx="657.7" cy="500.9" r="1.05"/>
<circle cx="658.2" cy="501.1" r="1.05"/>
<circle cx="658.6" cy="498.2" r="1.05"/>
<circle cx="659" cy="500.5" r="1.05"/>
<circle cx="659.4" cy="497.4" r="1.05"/>
<circle cx="659.8" cy="501.3" r="1.05"/>
<circle cx="660.3" cy="500" r="1.05"/>
<circle cx="660.7" cy="499.6" r="1.05"/>
<circle cx="661.1" cy="499.5" r="1.05"/>
<circle cx="661.5" cy="499" r="1.05"/>
<circle cx="661.9" cy="500.6" r="1.05"/>
<circle cx="662.4" cy="499.9" r="1.05"/>
<circle cx="662.8" cy="499.2" r="1.05"/>
<circle cx="663.2" cy="495.9" r="1.05"/>
<circle cx="663.6" cy="500.5" r="1.05"/>
<circle cx="664" cy="500.4" r="1.05"/>
<circle cx="664.5" cy="501.2" r="1.05"/>
<circle cx="664.9" cy="499.9" r="1.05"/>
<circle cx="665.3" cy="498.6" r="1.05"/>
<circle cx="665.7" cy="499.8" r="1.05"/>
<circle cx="666.1" cy="498.9" r="1.05"/>
<circle cx="666.6" cy="501.7" r="1.05"/>
<circle cx="667" cy="500.3" r="1.05"/>
<circle cx="667.4" cy="498.9" r="1.05"/>
<circle cx="667.8" cy="498.5" r="1.05"/>
<circle cx="668.2" cy="500.8" r="1.05"/>
<circle cx="668.7" cy="500.1" r="1.05"/>
</g>
<polyline points="370.1,505.4 370.6,505.4 371.1,505.4 371.6,505.4 372.1,505.4 372.6,505.4 373.1,505.4 373.6,505.4 374.1,505.4 374.6,505.4 375.1,505.4 375.6,505.4 376.1,505.4 376.6,505.4 377.1,505.4 377.6,505.4 378.1,505.4 378.6,505.4 379.1,505.4 379.6,505.4 380.1,505.4 380.6,505.4 381.1,505.4 381.6,505.4 382.1,505.4 382.6,505.4 383.1,505.4 383.6,505.4 384.1,505.4 384.6,505.4 385.1,505.4 385.6,505.4 386.1,505.4 386.6,505.4 387.1,505.4 387.6,505.4 388.1,505.4 388.6,505.4 389.1,505.4 389.6,505.4 390.1,505.4 390.6,505.4 391.1,505.4 391.6,505.4 392.1,505.4 392.6,505.4 393.1,505.4 393.6,505.4 394.1,505.4 394.6,505.4 395.1,505.4 395.6,505.4 396.1,505.4 396.6,505.4 397.1,505.4 397.6,505.4 398.1,505.4 398.6,505.4 399.1,505.4 399.6,505.4 400.1,505.4 400.6,505.4 401.1,505.4 401.6,505.4 402.1,505.4 402.6,505.4 403.1,505.4 403.6,505.4 404.1,505.4 404.6,505.4 405.1,505.4 405.6,505.4 406.1,505.4 406.6,505.4 407.1,505.4 407.6,505.4 408.1,505.4 408.6,505.4 409.1,505.4 409.6,505.4 410.1,505.4 410.6,505.4 411.1,505.4 411.6,505.4 412.1,505.4 412.6,505.4 413.1,505.4 413.6,505.4 414.1,505.4 414.6,505.4 415.1,505.4 415.6,505.4 416.1,505.4 416.6,505.4 417.1,505.4 417.6,505.4 418.1,505.4 418.6,505.4 419.1,505.4 419.6,505.4 420.1,505.4 420.6,505.4 421.1,505.4 421.6,505.4 422.1,505.4 422.6,505.4 423.1,505.3 423.6,505.3 424.1,505.3 424.6,505.3 425.1,505.3 425.6,505.3 426.1,505.3 426.6,505.3 427.1,505.3 427.6,505.3 428.1,505.3 428.6,505.2 429.1,505.2 429.6,505.2 430.1,505.2 430.6,505.2 431.1,505.1 431.6,505.1 432.1,505 432.6,505 433.1,505 433.6,504.9 434.1,504.8 434.6,504.8 435.1,504.7 435.6,504.6 436.1,504.5 436.6,504.4 437.1,504.3 437.6,504.1 438.1,504 438.6,503.8 439.1,503.6 439.6,503.4 440.1,503.2 440.6,503 441.1,502.7 441.6,502.4 442.1,502.1 442.6,501.7 443.1,501.3 443.6,500.9 444.1,500.5 444.6,500 445.1,499.5 445.6,498.9 446.1,498.3 446.6,497.6 447.1,496.9 447.6,496.2 448.1,495.4 448.6,494.5 449.1,493.6 449.6,492.6 450.1,491.6 450.6,490.5 451.1,489.4 451.6,488.2 452.1,486.9 452.6,485.6 453.1,484.2 453.6,482.8 454.1,481.3 454.6,479.8 455.1,478.2 455.6,476.5 456.1,474.8 456.6,473 457.1,471.2 457.6,469.4 458.1,467.5 458.6,465.6 459.1,463.7 459.6,461.8 460.1,459.8 460.6,457.8 461.1,455.8 461.6,453.9 462.1,451.9 462.6,450 463.1,448 463.6,446.2 464.1,444.3 464.6,442.5 465.1,440.8 465.6,439.1 466.1,437.5 466.6,435.9 467.1,434.5 467.6,433.1 468.1,431.9 468.6,430.7 469.1,429.7 469.6,428.7 470.1,427.9 470.6,427.2 471.1,426.6 471.6,426.2 472.1,425.9 472.6,425.7 473.1,425.7 473.6,425.8 474.1,426 474.6,426.3 475.1,426.8 475.6,427.4 476.1,428.1 476.6,429 477.1,430 477.6,431 478.1,432.2 478.6,433.5 479.1,434.9 479.6,436.4 480.1,437.9 480.6,439.6 481.1,441.3 481.6,443 482.1,444.8 482.6,446.7 483.1,448.5 483.6,450.5 484.1,452.4 484.6,454.4 485.1,456.3 485.6,458.3 486.1,460.2 486.6,462.2 487.1,464.1 487.6,466 488.1,467.9 488.6,469.8 489.1,471.6 489.6,473.3 490.1,475.1 490.6,476.7 491.1,478.4 491.6,479.9 492.1,481.5 492.6,482.9 493.1,484.3 493.6,485.7 494.1,486.9 494.6,488.2 495.1,489.3 495.6,490.4 496.1,491.5 496.6,492.5 497.1,493.4 497.6,494.3 498.1,495.1 498.6,495.9 499.1,496.6 499.6,497.3 500.1,497.9 500.6,498.5 501.1,499.1 501.6,499.6 502.1,500 502.6,500.4 503.1,500.8 503.6,501.2 504.1,501.5 504.6,501.8 505.1,502.1 505.6,502.4 506.1,502.6 506.6,502.8 507.1,503 507.6,503.2 508.1,503.3 508.6,503.4 509.1,503.6 509.6,503.7 510.1,503.8 510.6,503.9 511.1,503.9 511.6,504 512.1,504.1 512.6,504.1 513.1,504.2 513.6,504.2 514.1,504.2 514.6,504.3 515.1,504.3 515.6,504.3 516.1,504.4 516.6,504.4 517.1,504.4 517.6,504.4 518.1,504.5 518.6,504.5 519.1,504.5 519.6,504.6 520.1,504.6 520.6,504.6 521.1,504.7 521.6,504.7 522.1,504.8 522.6,504.9 523.1,504.9 523.6,505 524.1,505.1 524.6,505.3 525.1,505.4 525.6,505.5 526.1,505.7 526.6,505.9 527.1,506.1 527.6,506.3 528.1,506.5 528.6,506.7 529.1,506.9 529.6,507.2 530.1,507.5 530.6,507.7 531.1,508 531.6,508.3 532.1,508.5 532.6,508.8 533.1,509 533.6,509.3 534.1,509.5 534.6,509.7 535.1,509.9 535.6,510 536.1,510.1 536.6,510.2 537.1,510.3 537.6,510.3 538.1,510.3 538.6,510.3 539.1,510.2 539.6,510.1 540.1,510 540.6,509.8 541.1,509.7 541.6,509.4 542.1,509.2 542.6,509 543.1,508.7 543.6,508.4 544.1,508.1 544.6,507.8 545.1,507.6 545.6,507.3 546.1,507 546.6,506.7 547.1,506.4 547.6,506.2 548.1,505.9 548.6,505.7 549.1,505.5 549.6,505.2 550.1,505 550.6,504.9 551.1,504.7 551.6,504.5 552.1,504.4 552.6,504.3 553.1,504.1 553.6,504 554.1,503.9 554.6,503.8 555.1,503.7 555.6,503.7 556.1,503.6 556.6,503.5 557.1,503.4 557.6,503.4 558.1,503.3 558.6,503.2 559.1,503.1 559.6,503 560.1,503 560.6,502.9 561.1,502.8 561.6,502.7 562.1,502.6 562.6,502.4 563.1,502.3 563.6,502.1 564.1,502 564.6,501.8 565.1,501.6 565.6,501.4 566.1,501.2 566.6,500.9 567.1,500.7 567.6,500.4 568.1,500.1 568.6,499.7 569.1,499.3 569.6,498.9 570.1,498.5 570.6,498 571.1,497.4 571.6,496.9 572.1,496.2 572.6,495.6 573.1,494.8 573.6,494 574.1,493.2 574.6,492.3 575.1,491.3 575.6,490.3 576.1,489.1 576.6,487.9 577.1,486.6 577.6,485.3 578.1,483.8 578.6,482.3 579.1,480.6 579.6,478.9 580.1,477 580.6,475.1 581.1,473 581.6,470.9 582.1,468.6 582.6,466.2 583.1,463.8 583.6,461.2 584.1,458.5 584.6,455.6 585.1,452.7 585.6,449.7 586.1,446.5 586.6,443.3 587.1,440 587.6,436.5 588.1,433 588.6,429.4 589.1,425.7 589.6,421.9 590.1,418.1 590.6,414.2 591.1,410.2 591.6,406.2 592.1,402.2 592.6,398.2 593.1,394.1 593.6,390.1 594.1,386 594.6,382 595.1,378 595.6,374.1 596.1,370.2 596.6,366.4 597.1,362.7 597.6,359.1 598.1,355.6 598.6,352.3 599.1,349.1 599.6,346.1 600.1,343.2 600.6,340.6 601.1,338.1 601.6,335.9 602.1,333.9 602.6,332.2 603.1,330.7 603.6,329.5 604.1,328.6 604.6,328 605.1,327.6 605.6,327.6 606.1,327.8 606.6,328.3 607.1,329.2 607.6,330.3 608.1,331.7 608.6,333.3 609.1,335.3 609.6,337.5 610.1,339.9 610.6,342.6 611.1,345.5 611.6,348.6 612.1,351.9 612.6,355.3 613.1,359 613.6,362.7 614.1,366.7 614.6,370.7 615.1,374.8 615.6,379 616.1,383.3 616.6,387.6 617.1,391.9 617.6,396.3 618.1,400.7 618.6,405 619.1,409.4 619.6,413.6 620.1,417.9 620.6,422 621.1,426.1 621.6,430.1 622.1,434.1 622.6,437.9 623.1,441.6 623.6,445.2 624.1,448.7 624.6,452 625.1,455.3 625.6,458.4 626.1,461.3 626.6,464.2 627.1,466.9 627.6,469.4 628.1,471.9 628.6,474.2 629.1,476.4 629.6,478.5 630.1,480.4 630.6,482.2 631.1,483.9 631.6,485.5 632.1,487 632.6,488.4 633.1,489.7 633.6,490.9 634.1,492 634.6,493.1 635.1,494 635.6,494.9 636.1,495.7 636.6,496.4 637.1,497.1 637.6,497.7 638.1,498.3 638.6,498.8 639.1,499.2 639.6,499.6 640.1,500 640.6,500.4 641.1,500.7 641.6,500.9 642.1,501.2 642.6,501.4 643.1,501.6 643.6,501.8 644.1,502 644.6,502.1 645.1,502.2 645.6,502.3 646.1,502.4 646.6,502.5 647.1,502.6 647.6,502.6 648.1,502.7 648.6,502.8 649.1,502.8 649.6,502.8 650.1,502.9 650.6,502.9 651.1,502.9 651.6,502.9 652.1,502.9 652.6,503 653.1,503 653.6,503 654.1,503 654.6,503 655.1,502.9 655.6,502.9 656.1,502.9 656.6,502.9 657.1,502.9 657.6,502.8 658.1,502.8 658.6,502.8 659.1,502.7 659.6,502.7 660.1,502.6 660.6,502.6 661.1,502.5 661.6,502.4 662.1,502.3 662.6,502.2 663.1,502.2 663.6,502.1 664.1,502 664.6,501.9 665.1,501.8 665.6,501.7 666.1,501.6 666.6,501.6 667.1,501.5 667.6,501.4 668.1,501.3 668.6,501.3 669.1,501.2 669.6,501.2" fill="none" stroke="#ff0000" stroke-width="1.9"/>
<rect x="370.1" y="302.3" width="299.7" height="240.1" fill="none" stroke="#383838" stroke-width="1.5"/>
<line x1="370.1" y1="542.4" x2="370.1" y2="546.9" stroke="#383838" stroke-width="1.5"/>
<text x="370.1" y="558.2" font-family="Liberation Sans, sans-serif" font-size="10.5" text-anchor="middle" fill="#1e1e1e">810</text>
<line x1="412.9" y1="542.4" x2="412.9" y2="546.9" stroke="#383838" stroke-width="1.5"/>
<text x="412.9" y="558.2" font-family="Liberation Sans, sans-serif" font-size="10.5" text-anchor="middle" fill="#1e1e1e">805</text>
<line x1="455.7" y1="542.4" x2="455.7" y2="546.9" stroke="#383838" stroke-width="1.5"/>
<text x="455.7" y="558.2" font-family="Liberation Sans, sans-serif" font-size="10.5" text-anchor="middle" fill="#1e1e1e">800</text>
<line x1="498.5" y1="542.4" x2="498.5" y2="546.9" stroke="#383838" stroke-width="1.5"/>
<text x="498.5" y="558.2" font-family="Liberation Sans, sans-serif" font-size="10.5" text-anchor="middle" fill="#1e1e1e">795</text>
<line x1="541.4" y1="542.4" x2="541.4" y2="546.9" stroke="#383838" stroke-width="1.5"/>
<text x="541.4" y="558.2" font-family="Liberation Sans, sans-serif" font-size="10.5" text-anchor="middle" fill="#1e1e1e">790</text>
<line x1="584.2" y1="542.4" x2="584.2" y2="546.9" stroke="#383838" stroke-width="1.5"/>
<text x="584.2" y="558.2" font-family="Liberation Sans, sans-serif" font-size="10.5" text-anchor="middle" fill="#1e1e1e">785</text>
<line x1="627" y1="542.4" x2="627" y2="546.9" stroke="#383838" stroke-width="1.5"/>
<text x="627" y="558.2" font-family="Liberation Sans, sans-serif" font-size="10.5" text-anchor="middle" fill="#1e1e1e">780</text>
<line x1="669.8" y1="542.4" x2="669.8" y2="546.9" stroke="#383838" stroke-width="1.5"/>
<text x="669.8" y="558.2" font-family="Liberation Sans, sans-serif" font-size="10.5" text-anchor="middle" fill="#1e1e1e">775</text>
<line x1="391.5" y1="542.4" x2="391.5" y2="544.9" stroke="#383838" stroke-width="1.2"/>
<line x1="434.3" y1="542.4" x2="434.3" y2="544.9" stroke="#383838" stroke-width="1.2"/>
<line x1="477.1" y1="542.4" x2="477.1" y2="544.9" stroke="#383838" stroke-width="1.2"/>
<line x1="520" y1="542.4" x2="520" y2="544.9" stroke="#383838" stroke-width="1.2"/>
<line x1="562.8" y1="542.4" x2="562.8" y2="544.9" stroke="#383838" stroke-width="1.2"/>
<line x1="605.6" y1="542.4" x2="605.6" y2="544.9" stroke="#383838" stroke-width="1.2"/>
<line x1="648.4" y1="542.4" x2="648.4" y2="544.9" stroke="#383838" stroke-width="1.2"/>
<text x="519.2" y="572" font-family="Liberation Sans, sans-serif" font-size="12.5" text-anchor="middle" fill="#1e1e1e">Binding Energy (eV)</text>
<text transform="translate(363.5,455.5) rotate(-90)" font-family="Liberation Sans, sans-serif" font-size="12.5" text-anchor="middle" fill="#1e1e1e">Intenisty (au)</text>
<text x="381.8" y="333.3" font-family="Liberation Serif, serif" font-weight="bold" font-size="25.5" fill="#000">(d)</text>
<text x="457.1" y="414.9" font-family="Liberation Sans, sans-serif" font-size="11" fill="#1e1e1e">Co 2p<tspan font-size="8" dy="2.6">1/2</tspan></text>
<text x="447.9" y="450.8" font-family="Liberation Sans, sans-serif" font-size="11" fill="#1e1e1e">2+</text>
<text x="619.6" y="344.4" font-family="Liberation Sans, sans-serif" font-size="11" fill="#1e1e1e">Co 2p <tspan font-size="8" dy="2.6">3/2</tspan></text>
<text x="576.7" y="356.2" font-family="Liberation Sans, sans-serif" font-size="11" fill="#1e1e1e">2+</text>
<text x="417.4" y="488.6" font-family="Liberation Sans, sans-serif" font-size="9.3" font-weight="bold" fill="#1e1e1e">Sat</text>
<text x="511.6" y="490.4" font-family="Liberation Sans, sans-serif" font-size="9.3" font-weight="bold" fill="#1e1e1e">Sat</text>
</svg>
</body></html>
